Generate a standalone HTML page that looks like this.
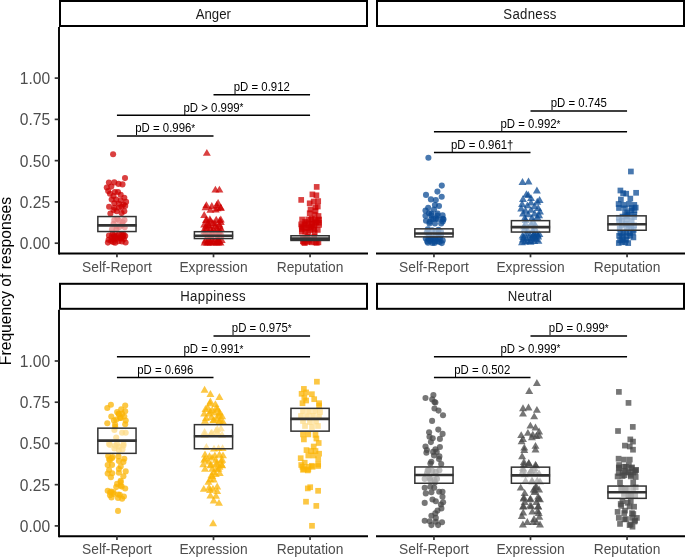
<!DOCTYPE html><html><head><meta charset="utf-8"><style>html,body{margin:0;padding:0;background:#fff;}svg{display:block;font-family:"Liberation Sans", sans-serif;will-change:transform;}</style></head><body>
<svg width="685" height="557" viewBox="0 0 685 557">
<rect width="685" height="557" fill="#fff"/>
<rect x="60" y="1" width="307" height="25" fill="#fff" stroke="#000" stroke-width="2"/>
<text transform="translate(213.3 18.5) scale(1.0 1.09)" font-size="13.2" fill="#1a1a1a" text-anchor="middle">Anger</text>
<path d="M59 253.5H368" stroke="#000" stroke-width="1.9" fill="none"/>
<path d="M116.94 253.5V257.3" stroke="#333" stroke-width="1.7"/>
<text transform="translate(116.94 271.6) scale(1.0 1.07)" font-size="13.8" fill="#4d4d4d" text-anchor="middle">Self-Report</text>
<path d="M213.5 253.5V257.3" stroke="#333" stroke-width="1.7"/>
<text transform="translate(213.5 271.6) scale(1.0 1.07)" font-size="13.8" fill="#4d4d4d" text-anchor="middle">Expression</text>
<path d="M310.06 253.5V257.3" stroke="#333" stroke-width="1.7"/>
<text transform="translate(310.06 271.6) scale(1.0 1.07)" font-size="13.8" fill="#4d4d4d" text-anchor="middle">Reputation</text>
<path d="M59 27V254.45" stroke="#000" stroke-width="1.9" fill="none"/>
<path d="M54.7 243.2H58.5" stroke="#333" stroke-width="1.7"/>
<text transform="translate(50.2 249.05) scale(1.0 1.0)" font-size="15.6" fill="#4d4d4d" text-anchor="end">0.00</text>
<path d="M54.7 201.92H58.5" stroke="#333" stroke-width="1.7"/>
<text transform="translate(50.2 207.77) scale(1.0 1.0)" font-size="15.6" fill="#4d4d4d" text-anchor="end">0.25</text>
<path d="M54.7 160.65H58.5" stroke="#333" stroke-width="1.7"/>
<text transform="translate(50.2 166.5) scale(1.0 1.0)" font-size="15.6" fill="#4d4d4d" text-anchor="end">0.50</text>
<path d="M54.7 119.38H58.5" stroke="#333" stroke-width="1.7"/>
<text transform="translate(50.2 125.22) scale(1.0 1.0)" font-size="15.6" fill="#4d4d4d" text-anchor="end">0.75</text>
<path d="M54.7 78.1H58.5" stroke="#333" stroke-width="1.7"/>
<text transform="translate(50.2 83.95) scale(1.0 1.0)" font-size="15.6" fill="#4d4d4d" text-anchor="end">1.00</text>
<circle cx="113.1" cy="154.2" r="3.05" fill="rgba(205,0,0,0.750)"/>
<circle cx="125" cy="178.1" r="3.05" fill="rgba(205,0,0,0.750)"/>
<circle cx="108.9" cy="182.6" r="3.05" fill="rgba(205,0,0,0.750)"/>
<circle cx="114.3" cy="182.4" r="3.05" fill="rgba(205,0,0,0.750)"/>
<circle cx="118.5" cy="183.9" r="3.05" fill="rgba(205,0,0,0.750)"/>
<circle cx="122.5" cy="184.4" r="3.05" fill="rgba(205,0,0,0.750)"/>
<circle cx="106.8" cy="187.5" r="3.05" fill="rgba(205,0,0,0.750)"/>
<circle cx="111.3" cy="186.6" r="3.05" fill="rgba(205,0,0,0.750)"/>
<circle cx="108.2" cy="191.1" r="3.05" fill="rgba(205,0,0,0.750)"/>
<circle cx="114.9" cy="192" r="3.05" fill="rgba(205,0,0,0.750)"/>
<circle cx="118" cy="192" r="3.05" fill="rgba(205,0,0,0.750)"/>
<circle cx="120.7" cy="194.7" r="3.05" fill="rgba(205,0,0,0.750)"/>
<circle cx="110" cy="193.8" r="3.05" fill="rgba(205,0,0,0.750)"/>
<circle cx="113.5" cy="196" r="3.05" fill="rgba(205,0,0,0.750)"/>
<circle cx="124.3" cy="197.8" r="3.05" fill="rgba(205,0,0,0.750)"/>
<circle cx="111.7" cy="199.6" r="3.05" fill="rgba(205,0,0,0.750)"/>
<circle cx="116.2" cy="199.6" r="3.05" fill="rgba(205,0,0,0.750)"/>
<circle cx="120.7" cy="200.5" r="3.05" fill="rgba(205,0,0,0.750)"/>
<circle cx="126.1" cy="201.9" r="3.05" fill="rgba(205,0,0,0.750)"/>
<circle cx="114.4" cy="203.2" r="3.05" fill="rgba(205,0,0,0.750)"/>
<circle cx="118.9" cy="203.7" r="3.05" fill="rgba(205,0,0,0.750)"/>
<circle cx="123.4" cy="204.6" r="3.05" fill="rgba(205,0,0,0.750)"/>
<circle cx="109.1" cy="206.8" r="3.05" fill="rgba(205,0,0,0.750)"/>
<circle cx="114.4" cy="207.7" r="3.05" fill="rgba(205,0,0,0.750)"/>
<circle cx="118.9" cy="207.7" r="3.05" fill="rgba(205,0,0,0.750)"/>
<circle cx="113.5" cy="210" r="3.05" fill="rgba(205,0,0,0.750)"/>
<circle cx="124.3" cy="211.3" r="3.05" fill="rgba(205,0,0,0.750)"/>
<circle cx="110.4" cy="213.5" r="3.05" fill="rgba(205,0,0,0.750)"/>
<circle cx="121.6" cy="213.1" r="3.05" fill="rgba(205,0,0,0.750)"/>
<circle cx="116.7" cy="211.3" r="3.05" fill="rgba(205,0,0,0.750)"/>
<circle cx="121.6" cy="206.8" r="3.05" fill="rgba(205,0,0,0.750)"/>
<circle cx="125.2" cy="205.9" r="3.05" fill="rgba(205,0,0,0.750)"/>
<circle cx="117.4" cy="219.1" r="3.05" fill="rgba(205,0,0,0.750)"/>
<circle cx="122.7" cy="222.3" r="3.05" fill="rgba(205,0,0,0.750)"/>
<circle cx="113.6" cy="223.8" r="3.05" fill="rgba(205,0,0,0.750)"/>
<circle cx="119.3" cy="220.9" r="3.05" fill="rgba(205,0,0,0.750)"/>
<circle cx="124.5" cy="220" r="3.05" fill="rgba(205,0,0,0.750)"/>
<circle cx="116.4" cy="229.6" r="3.05" fill="rgba(205,0,0,0.750)"/>
<circle cx="124.7" cy="227.2" r="3.05" fill="rgba(205,0,0,0.750)"/>
<circle cx="112" cy="229.3" r="3.05" fill="rgba(205,0,0,0.750)"/>
<circle cx="114.3" cy="220.1" r="3.05" fill="rgba(205,0,0,0.750)"/>
<circle cx="119.5" cy="227.1" r="3.05" fill="rgba(205,0,0,0.750)"/>
<circle cx="122.4" cy="225.1" r="3.05" fill="rgba(205,0,0,0.750)"/>
<circle cx="116.8" cy="226.5" r="3.05" fill="rgba(205,0,0,0.750)"/>
<circle cx="121.4" cy="238.4" r="3.05" fill="rgba(205,0,0,0.750)"/>
<circle cx="108.6" cy="239.8" r="3.05" fill="rgba(205,0,0,0.750)"/>
<circle cx="113.5" cy="239.6" r="3.05" fill="rgba(205,0,0,0.750)"/>
<circle cx="115.2" cy="242.8" r="3.05" fill="rgba(205,0,0,0.750)"/>
<circle cx="111.2" cy="241.1" r="3.05" fill="rgba(205,0,0,0.750)"/>
<circle cx="109" cy="235.5" r="3.05" fill="rgba(205,0,0,0.750)"/>
<circle cx="125.2" cy="236.1" r="3.05" fill="rgba(205,0,0,0.750)"/>
<circle cx="117.3" cy="238.8" r="3.05" fill="rgba(205,0,0,0.750)"/>
<circle cx="116.6" cy="235.7" r="3.05" fill="rgba(205,0,0,0.750)"/>
<circle cx="118.6" cy="241.3" r="3.05" fill="rgba(205,0,0,0.750)"/>
<circle cx="119" cy="234.6" r="3.05" fill="rgba(205,0,0,0.750)"/>
<circle cx="112.4" cy="234.3" r="3.05" fill="rgba(205,0,0,0.750)"/>
<circle cx="121.9" cy="234.4" r="3.05" fill="rgba(205,0,0,0.750)"/>
<circle cx="125.6" cy="242.5" r="3.05" fill="rgba(205,0,0,0.750)"/>
<circle cx="124" cy="239.1" r="3.05" fill="rgba(205,0,0,0.750)"/>
<circle cx="111.6" cy="237.4" r="3.05" fill="rgba(205,0,0,0.750)"/>
<circle cx="107.9" cy="242.6" r="3.05" fill="rgba(205,0,0,0.750)"/>
<circle cx="122" cy="241.5" r="3.05" fill="rgba(205,0,0,0.750)"/>
<circle cx="114.2" cy="236.7" r="3.05" fill="rgba(205,0,0,0.750)"/>
<circle cx="114.1" cy="235.4" r="3.05" fill="rgba(205,0,0,0.750)"/>
<circle cx="121.8" cy="237.2" r="3.05" fill="rgba(205,0,0,0.750)"/>
<circle cx="123.6" cy="234.6" r="3.05" fill="rgba(205,0,0,0.750)"/>
<circle cx="123" cy="236.1" r="3.05" fill="rgba(205,0,0,0.750)"/>
<circle cx="119.8" cy="237.7" r="3.05" fill="rgba(205,0,0,0.750)"/>
<circle cx="115.8" cy="237.7" r="3.05" fill="rgba(205,0,0,0.750)"/>
<circle cx="113.3" cy="242.1" r="3.05" fill="rgba(205,0,0,0.750)"/>
<path d="M206.85 148.9L210.83 155.8L202.87 155.8Z" fill="rgba(205,0,0,0.750)"/>
<path d="M215.4 185.7L219.38 192.6L211.42 192.6Z" fill="rgba(205,0,0,0.750)"/>
<path d="M219.4 185.7L223.38 192.6L215.42 192.6Z" fill="rgba(205,0,0,0.750)"/>
<path d="M206.4 201.2L210.38 208.1L202.42 208.1Z" fill="rgba(205,0,0,0.750)"/>
<path d="M211.8 202.1L215.78 209L207.82 209Z" fill="rgba(205,0,0,0.750)"/>
<path d="M218.1 199L222.08 205.9L214.12 205.9Z" fill="rgba(205,0,0,0.750)"/>
<path d="M217.6 204.3L221.58 211.2L213.62 211.2Z" fill="rgba(205,0,0,0.750)"/>
<path d="M210.4 205.9L214.38 212.8L206.42 212.8Z" fill="rgba(205,0,0,0.750)"/>
<path d="M220.8 203.7L224.78 210.6L216.82 210.6Z" fill="rgba(205,0,0,0.750)"/>
<path d="M204.2 211.1L208.18 218L200.22 218Z" fill="rgba(205,0,0,0.750)"/>
<path d="M220.8 215.6L224.78 222.5L216.82 222.5Z" fill="rgba(205,0,0,0.750)"/>
<path d="M206 216L209.98 222.9L202.02 222.9Z" fill="rgba(205,0,0,0.750)"/>
<path d="M210.4 216.9L214.38 223.8L206.42 223.8Z" fill="rgba(205,0,0,0.750)"/>
<path d="M204.2 220.5L208.18 227.4L200.22 227.4Z" fill="rgba(205,0,0,0.750)"/>
<path d="M208.6 221.4L212.58 228.3L204.62 228.3Z" fill="rgba(205,0,0,0.750)"/>
<path d="M214.9 219.6L218.88 226.5L210.92 226.5Z" fill="rgba(205,0,0,0.750)"/>
<path d="M219.4 220.5L223.38 227.4L215.42 227.4Z" fill="rgba(205,0,0,0.750)"/>
<path d="M220.8 218.1L224.78 225L216.82 225Z" fill="rgba(205,0,0,0.750)"/>
<path d="M205 224.1L208.98 231L201.02 231Z" fill="rgba(205,0,0,0.750)"/>
<path d="M210.4 225L214.38 231.9L206.42 231.9Z" fill="rgba(205,0,0,0.750)"/>
<path d="M216.7 224.1L220.68 231L212.72 231Z" fill="rgba(205,0,0,0.750)"/>
<path d="M221.2 225L225.18 231.9L217.22 231.9Z" fill="rgba(205,0,0,0.750)"/>
<path d="M204.2 227.7L208.18 234.6L200.22 234.6Z" fill="rgba(205,0,0,0.750)"/>
<path d="M212.2 227.7L216.18 234.6L208.22 234.6Z" fill="rgba(205,0,0,0.750)"/>
<path d="M218.5 226.8L222.48 233.7L214.52 233.7Z" fill="rgba(205,0,0,0.750)"/>
<path d="M220.7 203.8L224.68 210.7L216.72 210.7Z" fill="rgba(205,0,0,0.750)"/>
<path d="M215.7 205.5L219.68 212.4L211.72 212.4Z" fill="rgba(205,0,0,0.750)"/>
<path d="M205.5 203.3L209.48 210.2L201.52 210.2Z" fill="rgba(205,0,0,0.750)"/>
<path d="M216.7 201.1L220.68 208L212.72 208Z" fill="rgba(205,0,0,0.750)"/>
<path d="M206.6 215.8L210.58 222.7L202.62 222.7Z" fill="rgba(205,0,0,0.750)"/>
<path d="M208.9 221.7L212.88 228.6L204.92 228.6Z" fill="rgba(205,0,0,0.750)"/>
<path d="M216.2 215.8L220.18 222.7L212.22 222.7Z" fill="rgba(205,0,0,0.750)"/>
<path d="M219.9 222.6L223.88 229.5L215.92 229.5Z" fill="rgba(205,0,0,0.750)"/>
<path d="M219.7 216.4L223.68 223.3L215.72 223.3Z" fill="rgba(205,0,0,0.750)"/>
<path d="M206.7 224.4L210.68 231.3L202.72 231.3Z" fill="rgba(205,0,0,0.750)"/>
<path d="M208.4 218.9L212.38 225.8L204.42 225.8Z" fill="rgba(205,0,0,0.750)"/>
<path d="M215.2 222.1L219.18 229L211.22 229Z" fill="rgba(205,0,0,0.750)"/>
<path d="M212.9 219.1L216.88 226L208.92 226Z" fill="rgba(205,0,0,0.750)"/>
<path d="M209.9 215.3L213.88 222.2L205.92 222.2Z" fill="rgba(205,0,0,0.750)"/>
<path d="M213.2 225L217.18 231.9L209.22 231.9Z" fill="rgba(205,0,0,0.750)"/>
<path d="M206.2 221.8L210.18 228.7L202.22 228.7Z" fill="rgba(205,0,0,0.750)"/>
<path d="M212.1 228.9L216.08 235.8L208.12 235.8Z" fill="rgba(205,0,0,0.750)"/>
<path d="M218.1 229.5L222.08 236.4L214.12 236.4Z" fill="rgba(205,0,0,0.750)"/>
<path d="M207.9 232L211.88 238.9L203.92 238.9Z" fill="rgba(205,0,0,0.750)"/>
<path d="M220.4 227.8L224.38 234.7L216.42 234.7Z" fill="rgba(205,0,0,0.750)"/>
<path d="M217.4 232.9L221.38 239.8L213.42 239.8Z" fill="rgba(205,0,0,0.750)"/>
<path d="M211.3 232.3L215.28 239.2L207.32 239.2Z" fill="rgba(205,0,0,0.750)"/>
<path d="M204.6 230.2L208.58 237.1L200.62 237.1Z" fill="rgba(205,0,0,0.750)"/>
<path d="M220.6 231.3L224.58 238.2L216.62 238.2Z" fill="rgba(205,0,0,0.750)"/>
<path d="M215.6 228.5L219.58 235.4L211.62 235.4Z" fill="rgba(205,0,0,0.750)"/>
<path d="M208.8 228.3L212.78 235.2L204.82 235.2Z" fill="rgba(205,0,0,0.750)"/>
<path d="M208 236.5L211.98 243.4L204.02 243.4Z" fill="rgba(205,0,0,0.750)"/>
<path d="M211.3 235.1L215.28 242L207.32 242Z" fill="rgba(205,0,0,0.750)"/>
<path d="M213.7 237.1L217.68 244L209.72 244Z" fill="rgba(205,0,0,0.750)"/>
<path d="M217.6 235.4L221.58 242.3L213.62 242.3Z" fill="rgba(205,0,0,0.750)"/>
<path d="M205.2 236.5L209.18 243.4L201.22 243.4Z" fill="rgba(205,0,0,0.750)"/>
<path d="M221.7 236.1L225.68 243L217.72 243Z" fill="rgba(205,0,0,0.750)"/>
<path d="M219.4 237.5L223.38 244.4L215.42 244.4Z" fill="rgba(205,0,0,0.750)"/>
<path d="M216.6 237.9L220.58 244.8L212.62 244.8Z" fill="rgba(205,0,0,0.750)"/>
<path d="M210.5 237.9L214.48 244.8L206.52 244.8Z" fill="rgba(205,0,0,0.750)"/>
<path d="M218.4 236.8L222.38 243.7L214.42 243.7Z" fill="rgba(205,0,0,0.750)"/>
<path d="M210.8 238.7L214.78 245.6L206.82 245.6Z" fill="rgba(205,0,0,0.750)"/>
<path d="M206.9 238.7L210.88 245.6L202.92 245.6Z" fill="rgba(205,0,0,0.750)"/>
<path d="M220.5 238.7L224.48 245.6L216.52 245.6Z" fill="rgba(205,0,0,0.750)"/>
<path d="M216.7 238.7L220.68 245.6L212.72 245.6Z" fill="rgba(205,0,0,0.750)"/>
<path d="M213.4 238.7L217.38 245.6L209.42 245.6Z" fill="rgba(205,0,0,0.750)"/>
<path d="M208.1 238.7L212.08 245.6L204.12 245.6Z" fill="rgba(205,0,0,0.750)"/>
<path d="M204.6 238.7L208.58 245.6L200.62 245.6Z" fill="rgba(205,0,0,0.750)"/>
<path d="M218.3 238.7L222.28 245.6L214.32 245.6Z" fill="rgba(205,0,0,0.750)"/>
<rect x="313.85" y="184.05" width="5.7" height="5.7" fill="rgba(205,0,0,0.750)"/>
<rect x="298.35" y="197.05" width="5.7" height="5.7" fill="rgba(205,0,0,0.750)"/>
<rect x="309.55" y="191.55" width="5.7" height="5.7" fill="rgba(205,0,0,0.750)"/>
<rect x="313.55" y="192.45" width="5.7" height="5.7" fill="rgba(205,0,0,0.750)"/>
<rect x="306.85" y="200.45" width="5.7" height="5.7" fill="rgba(205,0,0,0.750)"/>
<rect x="310.85" y="198.65" width="5.7" height="5.7" fill="rgba(205,0,0,0.750)"/>
<rect x="315.35" y="198.25" width="5.7" height="5.7" fill="rgba(205,0,0,0.750)"/>
<rect x="312.65" y="204.55" width="5.7" height="5.7" fill="rgba(205,0,0,0.750)"/>
<rect x="314.95" y="203.65" width="5.7" height="5.7" fill="rgba(205,0,0,0.750)"/>
<rect x="306.85" y="210.35" width="5.7" height="5.7" fill="rgba(205,0,0,0.750)"/>
<rect x="311.75" y="211.75" width="5.7" height="5.7" fill="rgba(205,0,0,0.750)"/>
<rect x="299.25" y="216.65" width="5.7" height="5.7" fill="rgba(205,0,0,0.750)"/>
<rect x="316.25" y="216.65" width="5.7" height="5.7" fill="rgba(205,0,0,0.750)"/>
<rect x="309.05" y="215.75" width="5.7" height="5.7" fill="rgba(205,0,0,0.750)"/>
<rect x="298.35" y="221.55" width="5.7" height="5.7" fill="rgba(205,0,0,0.750)"/>
<rect x="303.65" y="220.25" width="5.7" height="5.7" fill="rgba(205,0,0,0.750)"/>
<rect x="309.05" y="221.15" width="5.7" height="5.7" fill="rgba(205,0,0,0.750)"/>
<rect x="313.55" y="219.35" width="5.7" height="5.7" fill="rgba(205,0,0,0.750)"/>
<rect x="316.25" y="222.05" width="5.7" height="5.7" fill="rgba(205,0,0,0.750)"/>
<rect x="300.15" y="224.75" width="5.7" height="5.7" fill="rgba(205,0,0,0.750)"/>
<rect x="305.65" y="224.75" width="5.7" height="5.7" fill="rgba(205,0,0,0.750)"/>
<rect x="311.15" y="224.75" width="5.7" height="5.7" fill="rgba(205,0,0,0.750)"/>
<rect x="307.65" y="206.65" width="5.7" height="5.7" fill="rgba(205,0,0,0.750)"/>
<rect x="312.65" y="208.15" width="5.7" height="5.7" fill="rgba(205,0,0,0.750)"/>
<rect x="315.65" y="213.15" width="5.7" height="5.7" fill="rgba(205,0,0,0.750)"/>
<rect x="315.05" y="217.35" width="5.7" height="5.7" fill="rgba(205,0,0,0.750)"/>
<rect x="308.45" y="223.85" width="5.7" height="5.7" fill="rgba(205,0,0,0.750)"/>
<rect x="307.55" y="227.15" width="5.7" height="5.7" fill="rgba(205,0,0,0.750)"/>
<rect x="302.25" y="218.95" width="5.7" height="5.7" fill="rgba(205,0,0,0.750)"/>
<rect x="301.65" y="221.85" width="5.7" height="5.7" fill="rgba(205,0,0,0.750)"/>
<rect x="302.25" y="228.65" width="5.7" height="5.7" fill="rgba(205,0,0,0.750)"/>
<rect x="311.25" y="226.65" width="5.7" height="5.7" fill="rgba(205,0,0,0.750)"/>
<rect x="311.65" y="222.55" width="5.7" height="5.7" fill="rgba(205,0,0,0.750)"/>
<rect x="312.85" y="219.75" width="5.7" height="5.7" fill="rgba(205,0,0,0.750)"/>
<rect x="304.55" y="225.15" width="5.7" height="5.7" fill="rgba(205,0,0,0.750)"/>
<rect x="308.15" y="216.85" width="5.7" height="5.7" fill="rgba(205,0,0,0.750)"/>
<rect x="299.05" y="226.25" width="5.7" height="5.7" fill="rgba(205,0,0,0.750)"/>
<rect x="314.95" y="227.05" width="5.7" height="5.7" fill="rgba(205,0,0,0.750)"/>
<rect x="316.05" y="219.85" width="5.7" height="5.7" fill="rgba(205,0,0,0.750)"/>
<rect x="308.75" y="220.95" width="5.7" height="5.7" fill="rgba(205,0,0,0.750)"/>
<rect x="305.25" y="229.35" width="5.7" height="5.7" fill="rgba(205,0,0,0.750)"/>
<rect x="305.35" y="222.15" width="5.7" height="5.7" fill="rgba(205,0,0,0.750)"/>
<rect x="311.85" y="229.85" width="5.7" height="5.7" fill="rgba(205,0,0,0.750)"/>
<rect x="305.35" y="216.55" width="5.7" height="5.7" fill="rgba(205,0,0,0.750)"/>
<rect x="298.85" y="223.45" width="5.7" height="5.7" fill="rgba(205,0,0,0.750)"/>
<rect x="298.95" y="228.85" width="5.7" height="5.7" fill="rgba(205,0,0,0.750)"/>
<rect x="311.95" y="217.05" width="5.7" height="5.7" fill="rgba(205,0,0,0.750)"/>
<rect x="300.15" y="235.25" width="5.7" height="5.7" fill="rgba(205,0,0,0.750)"/>
<rect x="311.35" y="233.75" width="5.7" height="5.7" fill="rgba(205,0,0,0.750)"/>
<rect x="305.65" y="236.75" width="5.7" height="5.7" fill="rgba(205,0,0,0.750)"/>
<rect x="304.35" y="234.05" width="5.7" height="5.7" fill="rgba(205,0,0,0.750)"/>
<rect x="302.75" y="236.45" width="5.7" height="5.7" fill="rgba(205,0,0,0.750)"/>
<rect x="304.35" y="239.15" width="5.7" height="5.7" fill="rgba(205,0,0,0.750)"/>
<rect x="312.75" y="239.55" width="5.7" height="5.7" fill="rgba(205,0,0,0.750)"/>
<rect x="309.05" y="239.45" width="5.7" height="5.7" fill="rgba(205,0,0,0.750)"/>
<rect x="315.55" y="239.45" width="5.7" height="5.7" fill="rgba(205,0,0,0.750)"/>
<rect x="300.05" y="238.35" width="5.7" height="5.7" fill="rgba(205,0,0,0.750)"/>
<rect x="306.75" y="238.15" width="5.7" height="5.7" fill="rgba(205,0,0,0.750)"/>
<rect x="301.95" y="240.15" width="5.7" height="5.7" fill="rgba(205,0,0,0.750)"/>
<rect x="300.85" y="239.55" width="5.7" height="5.7" fill="rgba(205,0,0,0.750)"/>
<rect x="313.95" y="239.95" width="5.7" height="5.7" fill="rgba(205,0,0,0.750)"/>
<rect x="97.84" y="216.55" width="38.2" height="15" fill="rgba(255,255,255,0.52)" stroke="#333" stroke-width="1.5"/>
<path d="M97.29 225.4H136.59" stroke="#333" stroke-width="2.6"/>
<rect x="194.4" y="231.7" width="38.2" height="6.85" fill="rgba(255,255,255,0.52)" stroke="#333" stroke-width="1.5"/>
<path d="M193.85 235.7H233.15" stroke="#333" stroke-width="2.6"/>
<rect x="290.96" y="235.75" width="38.2" height="4.7" fill="rgba(255,255,255,0.52)" stroke="#333" stroke-width="1.5"/>
<path d="M290.41 238.6H329.71" stroke="#333" stroke-width="2.6"/>
<path d="M213.5 94.7H310.06" stroke="#000" stroke-width="1.5"/>
<text transform="translate(261.78 91) scale(1.0 1.04)" font-size="11.4" fill="#000" text-anchor="middle">pD = 0.912</text>
<path d="M116.94 115.35H310.06" stroke="#000" stroke-width="1.5"/>
<text transform="translate(213.5 111.65) scale(1.0 1.04)" font-size="11.4" fill="#000" text-anchor="middle">pD &gt; 0.999<tspan font-size="10.0" dy="-0.5">*</tspan></text>
<path d="M116.94 136H213.5" stroke="#000" stroke-width="1.5"/>
<text transform="translate(165.22 132.3) scale(1.0 1.04)" font-size="11.4" fill="#000" text-anchor="middle">pD = 0.996<tspan font-size="10.0" dy="-0.5">*</tspan></text>
<rect x="377" y="1" width="307" height="25" fill="#fff" stroke="#000" stroke-width="2"/>
<text transform="translate(529.9 18.5) scale(1.0 1.09)" font-size="13.2" fill="#1a1a1a" text-anchor="middle" textLength="53.1" lengthAdjust="spacing">Sadness</text>
<path d="M376 253.5H685" stroke="#000" stroke-width="1.9" fill="none"/>
<path d="M433.94 253.5V257.3" stroke="#333" stroke-width="1.7"/>
<text transform="translate(433.94 271.6) scale(1.0 1.07)" font-size="13.8" fill="#4d4d4d" text-anchor="middle">Self-Report</text>
<path d="M530.5 253.5V257.3" stroke="#333" stroke-width="1.7"/>
<text transform="translate(530.5 271.6) scale(1.0 1.07)" font-size="13.8" fill="#4d4d4d" text-anchor="middle">Expression</text>
<path d="M627.06 253.5V257.3" stroke="#333" stroke-width="1.7"/>
<text transform="translate(627.06 271.6) scale(1.0 1.07)" font-size="13.8" fill="#4d4d4d" text-anchor="middle">Reputation</text>
<circle cx="428.4" cy="157.7" r="3.05" fill="rgba(11,75,148,0.750)"/>
<circle cx="441.8" cy="185.6" r="3.05" fill="rgba(11,75,148,0.750)"/>
<circle cx="437.4" cy="191.6" r="3.05" fill="rgba(11,75,148,0.750)"/>
<circle cx="426" cy="194.9" r="3.05" fill="rgba(11,75,148,0.750)"/>
<circle cx="441.7" cy="196.7" r="3.05" fill="rgba(11,75,148,0.750)"/>
<circle cx="430.9" cy="199.4" r="3.05" fill="rgba(11,75,148,0.750)"/>
<circle cx="435.8" cy="200.1" r="3.05" fill="rgba(11,75,148,0.750)"/>
<circle cx="434.9" cy="205.1" r="3.05" fill="rgba(11,75,148,0.750)"/>
<circle cx="439" cy="206" r="3.05" fill="rgba(11,75,148,0.750)"/>
<circle cx="428.2" cy="207.8" r="3.05" fill="rgba(11,75,148,0.750)"/>
<circle cx="425.5" cy="210.5" r="3.05" fill="rgba(11,75,148,0.750)"/>
<circle cx="434" cy="209.6" r="3.05" fill="rgba(11,75,148,0.750)"/>
<circle cx="425.5" cy="215.8" r="3.05" fill="rgba(11,75,148,0.750)"/>
<circle cx="431.3" cy="213.6" r="3.05" fill="rgba(11,75,148,0.750)"/>
<circle cx="437.6" cy="213.6" r="3.05" fill="rgba(11,75,148,0.750)"/>
<circle cx="442.6" cy="215.4" r="3.05" fill="rgba(11,75,148,0.750)"/>
<circle cx="443.5" cy="219.4" r="3.05" fill="rgba(11,75,148,0.750)"/>
<circle cx="426" cy="220.8" r="3.05" fill="rgba(11,75,148,0.750)"/>
<circle cx="431.3" cy="219" r="3.05" fill="rgba(11,75,148,0.750)"/>
<circle cx="437.6" cy="219" r="3.05" fill="rgba(11,75,148,0.750)"/>
<circle cx="429.5" cy="223.5" r="3.05" fill="rgba(11,75,148,0.750)"/>
<circle cx="434.9" cy="223.5" r="3.05" fill="rgba(11,75,148,0.750)"/>
<circle cx="441.2" cy="223.5" r="3.05" fill="rgba(11,75,148,0.750)"/>
<circle cx="429" cy="213.2" r="3.05" fill="rgba(11,75,148,0.750)"/>
<circle cx="442.8" cy="218.9" r="3.05" fill="rgba(11,75,148,0.750)"/>
<circle cx="435.9" cy="218.4" r="3.05" fill="rgba(11,75,148,0.750)"/>
<circle cx="431.4" cy="215.4" r="3.05" fill="rgba(11,75,148,0.750)"/>
<circle cx="437.4" cy="215.6" r="3.05" fill="rgba(11,75,148,0.750)"/>
<circle cx="442.7" cy="221.5" r="3.05" fill="rgba(11,75,148,0.750)"/>
<circle cx="433.3" cy="219" r="3.05" fill="rgba(11,75,148,0.750)"/>
<circle cx="429.7" cy="221.7" r="3.05" fill="rgba(11,75,148,0.750)"/>
<circle cx="438.5" cy="229.8" r="3.05" fill="rgba(11,75,148,0.750)"/>
<circle cx="441" cy="231.9" r="3.05" fill="rgba(11,75,148,0.750)"/>
<circle cx="432.1" cy="230.2" r="3.05" fill="rgba(11,75,148,0.750)"/>
<circle cx="438.4" cy="233.4" r="3.05" fill="rgba(11,75,148,0.750)"/>
<circle cx="435.7" cy="231" r="3.05" fill="rgba(11,75,148,0.750)"/>
<circle cx="426.8" cy="232.2" r="3.05" fill="rgba(11,75,148,0.750)"/>
<circle cx="427.8" cy="229.3" r="3.05" fill="rgba(11,75,148,0.750)"/>
<circle cx="441" cy="235" r="3.05" fill="rgba(11,75,148,0.750)"/>
<circle cx="435.4" cy="236" r="3.05" fill="rgba(11,75,148,0.750)"/>
<circle cx="429" cy="234.3" r="3.05" fill="rgba(11,75,148,0.750)"/>
<circle cx="430.3" cy="240.9" r="3.05" fill="rgba(11,75,148,0.750)"/>
<circle cx="437.6" cy="241.2" r="3.05" fill="rgba(11,75,148,0.750)"/>
<circle cx="441.8" cy="243.1" r="3.05" fill="rgba(11,75,148,0.750)"/>
<circle cx="434.7" cy="241.5" r="3.05" fill="rgba(11,75,148,0.750)"/>
<circle cx="427.2" cy="241.5" r="3.05" fill="rgba(11,75,148,0.750)"/>
<circle cx="435.1" cy="238.8" r="3.05" fill="rgba(11,75,148,0.750)"/>
<circle cx="440.1" cy="238.4" r="3.05" fill="rgba(11,75,148,0.750)"/>
<circle cx="428.4" cy="238.8" r="3.05" fill="rgba(11,75,148,0.750)"/>
<circle cx="431.1" cy="238.2" r="3.05" fill="rgba(11,75,148,0.750)"/>
<circle cx="432.3" cy="243" r="3.05" fill="rgba(11,75,148,0.750)"/>
<circle cx="442.7" cy="240.4" r="3.05" fill="rgba(11,75,148,0.750)"/>
<circle cx="425.8" cy="238.6" r="3.05" fill="rgba(11,75,148,0.750)"/>
<circle cx="438.5" cy="239" r="3.05" fill="rgba(11,75,148,0.750)"/>
<circle cx="439.6" cy="242" r="3.05" fill="rgba(11,75,148,0.750)"/>
<circle cx="428" cy="242.8" r="3.05" fill="rgba(11,75,148,0.750)"/>
<circle cx="432.5" cy="238.4" r="3.05" fill="rgba(11,75,148,0.750)"/>
<circle cx="429.6" cy="239.7" r="3.05" fill="rgba(11,75,148,0.750)"/>
<circle cx="434.5" cy="243" r="3.05" fill="rgba(11,75,148,0.750)"/>
<path d="M522.5 178.1L526.48 185L518.52 185Z" fill="rgba(11,75,148,0.750)"/>
<path d="M528.5 177.6L532.48 184.5L524.52 184.5Z" fill="rgba(11,75,148,0.750)"/>
<path d="M536.9 186.6L540.88 193.5L532.92 193.5Z" fill="rgba(11,75,148,0.750)"/>
<path d="M526.5 190.2L530.48 197.1L522.52 197.1Z" fill="rgba(11,75,148,0.750)"/>
<path d="M528.3 191.1L532.28 198L524.32 198Z" fill="rgba(11,75,148,0.750)"/>
<path d="M539.6 196L543.58 202.9L535.62 202.9Z" fill="rgba(11,75,148,0.750)"/>
<path d="M523 195.1L526.98 202L519.02 202Z" fill="rgba(11,75,148,0.750)"/>
<path d="M531 194.2L534.98 201.1L527.02 201.1Z" fill="rgba(11,75,148,0.750)"/>
<path d="M522.1 200.1L526.08 207L518.12 207Z" fill="rgba(11,75,148,0.750)"/>
<path d="M531 198.7L534.98 205.6L527.02 205.6Z" fill="rgba(11,75,148,0.750)"/>
<path d="M537.3 197.8L541.28 204.7L533.32 204.7Z" fill="rgba(11,75,148,0.750)"/>
<path d="M527.4 201.4L531.38 208.3L523.42 208.3Z" fill="rgba(11,75,148,0.750)"/>
<path d="M534.6 202.3L538.58 209.2L530.62 209.2Z" fill="rgba(11,75,148,0.750)"/>
<path d="M521.2 204.6L525.18 211.5L517.22 211.5Z" fill="rgba(11,75,148,0.750)"/>
<path d="M525.6 206.8L529.58 213.7L521.62 213.7Z" fill="rgba(11,75,148,0.750)"/>
<path d="M531 205.9L534.98 212.8L527.02 212.8Z" fill="rgba(11,75,148,0.750)"/>
<path d="M538.2 204.1L542.18 211L534.22 211Z" fill="rgba(11,75,148,0.750)"/>
<path d="M540 207.7L543.98 214.6L536.02 214.6Z" fill="rgba(11,75,148,0.750)"/>
<path d="M523 209.5L526.98 216.4L519.02 216.4Z" fill="rgba(11,75,148,0.750)"/>
<path d="M528.3 210.4L532.28 217.3L524.32 217.3Z" fill="rgba(11,75,148,0.750)"/>
<path d="M534.6 209.5L538.58 216.4L530.62 216.4Z" fill="rgba(11,75,148,0.750)"/>
<path d="M539.1 211.3L543.08 218.2L535.12 218.2Z" fill="rgba(11,75,148,0.750)"/>
<path d="M524.7 214L528.68 220.9L520.72 220.9Z" fill="rgba(11,75,148,0.750)"/>
<path d="M531.9 214L535.88 220.9L527.92 220.9Z" fill="rgba(11,75,148,0.750)"/>
<path d="M537.3 213.1L541.28 220L533.32 220Z" fill="rgba(11,75,148,0.750)"/>
<path d="M534.9 224.1L538.88 231L530.92 231Z" fill="rgba(11,75,148,0.750)"/>
<path d="M533.1 218.1L537.08 225L529.12 225Z" fill="rgba(11,75,148,0.750)"/>
<path d="M525.6 216L529.58 222.9L521.62 222.9Z" fill="rgba(11,75,148,0.750)"/>
<path d="M535.2 220.7L539.18 227.6L531.22 227.6Z" fill="rgba(11,75,148,0.750)"/>
<path d="M524.5 225.1L528.48 232L520.52 232Z" fill="rgba(11,75,148,0.750)"/>
<path d="M525.5 219.6L529.48 226.5L521.52 226.5Z" fill="rgba(11,75,148,0.750)"/>
<path d="M524.2 222.5L528.18 229.4L520.22 229.4Z" fill="rgba(11,75,148,0.750)"/>
<path d="M532.6 226L536.58 232.9L528.62 232.9Z" fill="rgba(11,75,148,0.750)"/>
<path d="M531 219.9L534.98 226.8L527.02 226.8Z" fill="rgba(11,75,148,0.750)"/>
<path d="M527.8 226.4L531.78 233.3L523.82 233.3Z" fill="rgba(11,75,148,0.750)"/>
<path d="M538.1 232.5L542.08 239.4L534.12 239.4Z" fill="rgba(11,75,148,0.750)"/>
<path d="M530.5 237.8L534.48 244.7L526.52 244.7Z" fill="rgba(11,75,148,0.750)"/>
<path d="M534.3 237L538.28 243.9L530.32 243.9Z" fill="rgba(11,75,148,0.750)"/>
<path d="M526.3 234L530.28 240.9L522.32 240.9Z" fill="rgba(11,75,148,0.750)"/>
<path d="M531.1 233.9L535.08 240.8L527.12 240.8Z" fill="rgba(11,75,148,0.750)"/>
<path d="M535.1 232.5L539.08 239.4L531.12 239.4Z" fill="rgba(11,75,148,0.750)"/>
<path d="M530 231.2L533.98 238.1L526.02 238.1Z" fill="rgba(11,75,148,0.750)"/>
<path d="M538.4 236.8L542.38 243.7L534.42 243.7Z" fill="rgba(11,75,148,0.750)"/>
<path d="M522.6 231.7L526.58 238.6L518.62 238.6Z" fill="rgba(11,75,148,0.750)"/>
<path d="M525 237.5L528.98 244.4L521.02 244.4Z" fill="rgba(11,75,148,0.750)"/>
<path d="M526.6 229.6L530.58 236.5L522.62 236.5Z" fill="rgba(11,75,148,0.750)"/>
<path d="M536.9 229.6L540.88 236.5L532.92 236.5Z" fill="rgba(11,75,148,0.750)"/>
<path d="M522 238.3L525.98 245.2L518.02 245.2Z" fill="rgba(11,75,148,0.750)"/>
<path d="M534.2 229.8L538.18 236.7L530.22 236.7Z" fill="rgba(11,75,148,0.750)"/>
<path d="M539.4 230.2L543.38 237.1L535.42 237.1Z" fill="rgba(11,75,148,0.750)"/>
<path d="M522.9 235.7L526.88 242.6L518.92 242.6Z" fill="rgba(11,75,148,0.750)"/>
<path d="M536.1 235L540.08 241.9L532.12 241.9Z" fill="rgba(11,75,148,0.750)"/>
<path d="M527.8 237.1L531.78 244L523.82 244Z" fill="rgba(11,75,148,0.750)"/>
<path d="M537.8 231.3L541.78 238.2L533.82 238.2Z" fill="rgba(11,75,148,0.750)"/>
<path d="M533.1 232.5L537.08 239.4L529.12 239.4Z" fill="rgba(11,75,148,0.750)"/>
<path d="M530.5 236.5L534.48 243.4L526.52 243.4Z" fill="rgba(11,75,148,0.750)"/>
<path d="M533.2 231.1L537.18 238L529.22 238Z" fill="rgba(11,75,148,0.750)"/>
<path d="M534.8 234.1L538.78 241L530.82 241Z" fill="rgba(11,75,148,0.750)"/>
<path d="M523.3 233.1L527.28 240L519.32 240Z" fill="rgba(11,75,148,0.750)"/>
<rect x="628.05" y="168.65" width="5.7" height="5.7" fill="rgba(11,75,148,0.750)"/>
<rect x="617.55" y="187.65" width="5.7" height="5.7" fill="rgba(11,75,148,0.750)"/>
<rect x="633.25" y="189.95" width="5.7" height="5.7" fill="rgba(11,75,148,0.750)"/>
<rect x="620.25" y="190.35" width="5.7" height="5.7" fill="rgba(11,75,148,0.750)"/>
<rect x="623.35" y="190.85" width="5.7" height="5.7" fill="rgba(11,75,148,0.750)"/>
<rect x="618.05" y="196.65" width="5.7" height="5.7" fill="rgba(11,75,148,0.750)"/>
<rect x="627.45" y="195.75" width="5.7" height="5.7" fill="rgba(11,75,148,0.750)"/>
<rect x="615.75" y="201.15" width="5.7" height="5.7" fill="rgba(11,75,148,0.750)"/>
<rect x="620.65" y="202.05" width="5.7" height="5.7" fill="rgba(11,75,148,0.750)"/>
<rect x="626.05" y="201.15" width="5.7" height="5.7" fill="rgba(11,75,148,0.750)"/>
<rect x="631.45" y="202.05" width="5.7" height="5.7" fill="rgba(11,75,148,0.750)"/>
<rect x="616.15" y="205.15" width="5.7" height="5.7" fill="rgba(11,75,148,0.750)"/>
<rect x="622.15" y="205.55" width="5.7" height="5.7" fill="rgba(11,75,148,0.750)"/>
<rect x="628.75" y="205.15" width="5.7" height="5.7" fill="rgba(11,75,148,0.750)"/>
<rect x="632.85" y="204.75" width="5.7" height="5.7" fill="rgba(11,75,148,0.750)"/>
<rect x="631.55" y="207.45" width="5.7" height="5.7" fill="rgba(11,75,148,0.750)"/>
<rect x="624.35" y="209.55" width="5.7" height="5.7" fill="rgba(11,75,148,0.750)"/>
<rect x="622.25" y="211.25" width="5.7" height="5.7" fill="rgba(11,75,148,0.750)"/>
<rect x="626.05" y="211.65" width="5.7" height="5.7" fill="rgba(11,75,148,0.750)"/>
<rect x="628.45" y="207.75" width="5.7" height="5.7" fill="rgba(11,75,148,0.750)"/>
<rect x="631.45" y="212.05" width="5.7" height="5.7" fill="rgba(11,75,148,0.750)"/>
<rect x="628.85" y="218.15" width="5.7" height="5.7" fill="rgba(11,75,148,0.750)"/>
<rect x="623.15" y="221.35" width="5.7" height="5.7" fill="rgba(11,75,148,0.750)"/>
<rect x="630.85" y="227.05" width="5.7" height="5.7" fill="rgba(11,75,148,0.750)"/>
<rect x="616.85" y="225.65" width="5.7" height="5.7" fill="rgba(11,75,148,0.750)"/>
<rect x="628.35" y="224.35" width="5.7" height="5.7" fill="rgba(11,75,148,0.750)"/>
<rect x="631.25" y="214.25" width="5.7" height="5.7" fill="rgba(11,75,148,0.750)"/>
<rect x="615.95" y="214.95" width="5.7" height="5.7" fill="rgba(11,75,148,0.750)"/>
<rect x="626.05" y="222.75" width="5.7" height="5.7" fill="rgba(11,75,148,0.750)"/>
<rect x="618.85" y="222.75" width="5.7" height="5.7" fill="rgba(11,75,148,0.750)"/>
<rect x="619.65" y="213.75" width="5.7" height="5.7" fill="rgba(11,75,148,0.750)"/>
<rect x="623.65" y="216.95" width="5.7" height="5.7" fill="rgba(11,75,148,0.750)"/>
<rect x="618.95" y="218.15" width="5.7" height="5.7" fill="rgba(11,75,148,0.750)"/>
<rect x="624.15" y="224.75" width="5.7" height="5.7" fill="rgba(11,75,148,0.750)"/>
<rect x="631.25" y="222.45" width="5.7" height="5.7" fill="rgba(11,75,148,0.750)"/>
<rect x="616.25" y="218.85" width="5.7" height="5.7" fill="rgba(11,75,148,0.750)"/>
<rect x="625.05" y="213.65" width="5.7" height="5.7" fill="rgba(11,75,148,0.750)"/>
<rect x="619.15" y="233.65" width="5.7" height="5.7" fill="rgba(11,75,148,0.750)"/>
<rect x="630.05" y="229.55" width="5.7" height="5.7" fill="rgba(11,75,148,0.750)"/>
<rect x="623.95" y="233.25" width="5.7" height="5.7" fill="rgba(11,75,148,0.750)"/>
<rect x="616.25" y="232.95" width="5.7" height="5.7" fill="rgba(11,75,148,0.750)"/>
<rect x="620.55" y="231.05" width="5.7" height="5.7" fill="rgba(11,75,148,0.750)"/>
<rect x="627.35" y="232.85" width="5.7" height="5.7" fill="rgba(11,75,148,0.750)"/>
<rect x="630.55" y="234.55" width="5.7" height="5.7" fill="rgba(11,75,148,0.750)"/>
<rect x="617.55" y="230.05" width="5.7" height="5.7" fill="rgba(11,75,148,0.750)"/>
<rect x="623.45" y="229.45" width="5.7" height="5.7" fill="rgba(11,75,148,0.750)"/>
<rect x="626.75" y="230.25" width="5.7" height="5.7" fill="rgba(11,75,148,0.750)"/>
<rect x="623.45" y="236.95" width="5.7" height="5.7" fill="rgba(11,75,148,0.750)"/>
<rect x="619.25" y="239.15" width="5.7" height="5.7" fill="rgba(11,75,148,0.750)"/>
<rect x="615.95" y="240.15" width="5.7" height="5.7" fill="rgba(11,75,148,0.750)"/>
<rect x="617.25" y="237.35" width="5.7" height="5.7" fill="rgba(11,75,148,0.750)"/>
<rect x="625.35" y="240.25" width="5.7" height="5.7" fill="rgba(11,75,148,0.750)"/>
<rect x="622.25" y="239.45" width="5.7" height="5.7" fill="rgba(11,75,148,0.750)"/>
<rect x="620.25" y="236.65" width="5.7" height="5.7" fill="rgba(11,75,148,0.750)"/>
<rect x="414.84" y="228.85" width="38.2" height="8" fill="rgba(255,255,255,0.52)" stroke="#333" stroke-width="1.5"/>
<path d="M414.29 233.5H453.59" stroke="#333" stroke-width="2.6"/>
<rect x="511.4" y="220.65" width="38.2" height="11.4" fill="rgba(255,255,255,0.52)" stroke="#333" stroke-width="1.5"/>
<path d="M510.85 227.1H550.15" stroke="#333" stroke-width="2.6"/>
<rect x="607.96" y="215.85" width="38.2" height="14.4" fill="rgba(255,255,255,0.52)" stroke="#333" stroke-width="1.5"/>
<path d="M607.41 224.3H646.71" stroke="#333" stroke-width="2.6"/>
<path d="M530.5 111.1H627.06" stroke="#000" stroke-width="1.5"/>
<text transform="translate(578.78 107.4) scale(1.0 1.04)" font-size="11.4" fill="#000" text-anchor="middle">pD = 0.745</text>
<path d="M433.94 131.8H627.06" stroke="#000" stroke-width="1.5"/>
<text transform="translate(530.5 128.1) scale(1.0 1.04)" font-size="11.4" fill="#000" text-anchor="middle">pD = 0.992<tspan font-size="10.0" dy="-0.5">*</tspan></text>
<path d="M433.94 152.5H530.5" stroke="#000" stroke-width="1.5"/>
<text transform="translate(482.22 148.8) scale(1.0 1.04)" font-size="11.4" fill="#000" text-anchor="middle">pD = 0.961†</text>
<rect x="60" y="283.8" width="307" height="25" fill="#fff" stroke="#000" stroke-width="2"/>
<text transform="translate(212.9 301.3) scale(1.0 1.09)" font-size="13.2" fill="#1a1a1a" text-anchor="middle" textLength="65.4" lengthAdjust="spacing">Happiness</text>
<path d="M59 536.3H368" stroke="#000" stroke-width="1.9" fill="none"/>
<path d="M116.94 536.3V540.1" stroke="#333" stroke-width="1.7"/>
<text transform="translate(116.94 554.4) scale(1.0 1.07)" font-size="13.8" fill="#4d4d4d" text-anchor="middle">Self-Report</text>
<path d="M213.5 536.3V540.1" stroke="#333" stroke-width="1.7"/>
<text transform="translate(213.5 554.4) scale(1.0 1.07)" font-size="13.8" fill="#4d4d4d" text-anchor="middle">Expression</text>
<path d="M310.06 536.3V540.1" stroke="#333" stroke-width="1.7"/>
<text transform="translate(310.06 554.4) scale(1.0 1.07)" font-size="13.8" fill="#4d4d4d" text-anchor="middle">Reputation</text>
<path d="M59 309.8V537.25" stroke="#000" stroke-width="1.9" fill="none"/>
<path d="M54.7 525.9H58.5" stroke="#333" stroke-width="1.7"/>
<text transform="translate(50.2 531.75) scale(1.0 1.0)" font-size="15.6" fill="#4d4d4d" text-anchor="end">0.00</text>
<path d="M54.7 484.67H58.5" stroke="#333" stroke-width="1.7"/>
<text transform="translate(50.2 490.52) scale(1.0 1.0)" font-size="15.6" fill="#4d4d4d" text-anchor="end">0.25</text>
<path d="M54.7 443.45H58.5" stroke="#333" stroke-width="1.7"/>
<text transform="translate(50.2 449.3) scale(1.0 1.0)" font-size="15.6" fill="#4d4d4d" text-anchor="end">0.50</text>
<path d="M54.7 402.22H58.5" stroke="#333" stroke-width="1.7"/>
<text transform="translate(50.2 408.07) scale(1.0 1.0)" font-size="15.6" fill="#4d4d4d" text-anchor="end">0.75</text>
<path d="M54.7 361H58.5" stroke="#333" stroke-width="1.7"/>
<text transform="translate(50.2 366.85) scale(1.0 1.0)" font-size="15.6" fill="#4d4d4d" text-anchor="end">1.00</text>
<circle cx="110.9" cy="404.7" r="3.05" fill="rgba(251,180,6,0.750)"/>
<circle cx="107.3" cy="408" r="3.05" fill="rgba(251,180,6,0.750)"/>
<circle cx="121.2" cy="409.4" r="3.05" fill="rgba(251,180,6,0.750)"/>
<circle cx="125.2" cy="411.2" r="3.05" fill="rgba(251,180,6,0.750)"/>
<circle cx="117.1" cy="412.1" r="3.05" fill="rgba(251,180,6,0.750)"/>
<circle cx="118.9" cy="414.3" r="3.05" fill="rgba(251,180,6,0.750)"/>
<circle cx="122.1" cy="413.9" r="3.05" fill="rgba(251,180,6,0.750)"/>
<circle cx="111.3" cy="416.5" r="3.05" fill="rgba(251,180,6,0.750)"/>
<circle cx="124.3" cy="416.5" r="3.05" fill="rgba(251,180,6,0.750)"/>
<circle cx="120.7" cy="417.9" r="3.05" fill="rgba(251,180,6,0.750)"/>
<circle cx="114" cy="420.6" r="3.05" fill="rgba(251,180,6,0.750)"/>
<circle cx="125.7" cy="420.6" r="3.05" fill="rgba(251,180,6,0.750)"/>
<circle cx="107.3" cy="423.3" r="3.05" fill="rgba(251,180,6,0.750)"/>
<circle cx="125.2" cy="424.2" r="3.05" fill="rgba(251,180,6,0.750)"/>
<circle cx="115.2" cy="426.9" r="3.05" fill="rgba(251,180,6,0.750)"/>
<circle cx="114.4" cy="430" r="3.05" fill="rgba(251,180,6,0.750)"/>
<circle cx="122.1" cy="432.7" r="3.05" fill="rgba(251,180,6,0.750)"/>
<circle cx="125.7" cy="432.7" r="3.05" fill="rgba(251,180,6,0.750)"/>
<circle cx="116.2" cy="437.6" r="3.05" fill="rgba(251,180,6,0.750)"/>
<circle cx="109" cy="444" r="3.05" fill="rgba(251,180,6,0.750)"/>
<circle cx="117" cy="444" r="3.05" fill="rgba(251,180,6,0.750)"/>
<circle cx="123.5" cy="444" r="3.05" fill="rgba(251,180,6,0.750)"/>
<circle cx="110" cy="444.9" r="3.05" fill="rgba(251,180,6,0.750)"/>
<circle cx="115.3" cy="445.8" r="3.05" fill="rgba(251,180,6,0.750)"/>
<circle cx="118.9" cy="446.7" r="3.05" fill="rgba(251,180,6,0.750)"/>
<circle cx="123.4" cy="445.8" r="3.05" fill="rgba(251,180,6,0.750)"/>
<circle cx="114.4" cy="448.5" r="3.05" fill="rgba(251,180,6,0.750)"/>
<circle cx="122.5" cy="449.4" r="3.05" fill="rgba(251,180,6,0.750)"/>
<circle cx="118.9" cy="450.3" r="3.05" fill="rgba(251,180,6,0.750)"/>
<circle cx="108.2" cy="456.1" r="3.05" fill="rgba(251,180,6,0.750)"/>
<circle cx="112.6" cy="457" r="3.05" fill="rgba(251,180,6,0.750)"/>
<circle cx="118.5" cy="456.5" r="3.05" fill="rgba(251,180,6,0.750)"/>
<circle cx="124.3" cy="458.8" r="3.05" fill="rgba(251,180,6,0.750)"/>
<circle cx="110" cy="460.1" r="3.05" fill="rgba(251,180,6,0.750)"/>
<circle cx="118.9" cy="461" r="3.05" fill="rgba(251,180,6,0.750)"/>
<circle cx="123.4" cy="461.9" r="3.05" fill="rgba(251,180,6,0.750)"/>
<circle cx="107.7" cy="465.1" r="3.05" fill="rgba(251,180,6,0.750)"/>
<circle cx="120.7" cy="466.4" r="3.05" fill="rgba(251,180,6,0.750)"/>
<circle cx="109.1" cy="470" r="3.05" fill="rgba(251,180,6,0.750)"/>
<circle cx="118.9" cy="469.1" r="3.05" fill="rgba(251,180,6,0.750)"/>
<circle cx="125.7" cy="471.4" r="3.05" fill="rgba(251,180,6,0.750)"/>
<circle cx="107.7" cy="473.6" r="3.05" fill="rgba(251,180,6,0.750)"/>
<circle cx="112.2" cy="473.2" r="3.05" fill="rgba(251,180,6,0.750)"/>
<circle cx="118.9" cy="472.7" r="3.05" fill="rgba(251,180,6,0.750)"/>
<circle cx="110.9" cy="477.2" r="3.05" fill="rgba(251,180,6,0.750)"/>
<circle cx="123.4" cy="476.3" r="3.05" fill="rgba(251,180,6,0.750)"/>
<circle cx="120.7" cy="480.8" r="3.05" fill="rgba(251,180,6,0.750)"/>
<circle cx="117.1" cy="483.9" r="3.05" fill="rgba(251,180,6,0.750)"/>
<circle cx="120.7" cy="482.2" r="3.05" fill="rgba(251,180,6,0.750)"/>
<circle cx="116.2" cy="487.1" r="3.05" fill="rgba(251,180,6,0.750)"/>
<circle cx="120.7" cy="485.8" r="3.05" fill="rgba(251,180,6,0.750)"/>
<circle cx="125.2" cy="488.5" r="3.05" fill="rgba(251,180,6,0.750)"/>
<circle cx="107.7" cy="490.7" r="3.05" fill="rgba(251,180,6,0.750)"/>
<circle cx="111.3" cy="491.6" r="3.05" fill="rgba(251,180,6,0.750)"/>
<circle cx="113.5" cy="493.9" r="3.05" fill="rgba(251,180,6,0.750)"/>
<circle cx="110" cy="495.2" r="3.05" fill="rgba(251,180,6,0.750)"/>
<circle cx="119.8" cy="494.7" r="3.05" fill="rgba(251,180,6,0.750)"/>
<circle cx="123.9" cy="496.5" r="3.05" fill="rgba(251,180,6,0.750)"/>
<circle cx="118" cy="497.9" r="3.05" fill="rgba(251,180,6,0.750)"/>
<circle cx="122.1" cy="498.8" r="3.05" fill="rgba(251,180,6,0.750)"/>
<circle cx="118" cy="510.9" r="3.05" fill="rgba(251,180,6,0.750)"/>
<circle cx="125.2" cy="405.6" r="3.05" fill="rgba(251,180,6,0.750)"/>
<circle cx="120" cy="418" r="3.05" fill="rgba(251,180,6,0.750)"/>
<circle cx="115.1" cy="424.6" r="3.05" fill="rgba(251,180,6,0.750)"/>
<circle cx="118.5" cy="413.7" r="3.05" fill="rgba(251,180,6,0.750)"/>
<circle cx="116.3" cy="419.5" r="3.05" fill="rgba(251,180,6,0.750)"/>
<circle cx="109.1" cy="459.4" r="3.05" fill="rgba(251,180,6,0.750)"/>
<circle cx="112" cy="464.9" r="3.05" fill="rgba(251,180,6,0.750)"/>
<circle cx="118.3" cy="494.6" r="3.05" fill="rgba(251,180,6,0.750)"/>
<circle cx="113.5" cy="492.3" r="3.05" fill="rgba(251,180,6,0.750)"/>
<circle cx="110.1" cy="492.3" r="3.05" fill="rgba(251,180,6,0.750)"/>
<circle cx="111.5" cy="497.4" r="3.05" fill="rgba(251,180,6,0.750)"/>
<circle cx="111.8" cy="458.3" r="3.05" fill="rgba(251,180,6,0.750)"/>
<circle cx="121.7" cy="486.6" r="3.05" fill="rgba(251,180,6,0.750)"/>
<path d="M204.6 385.8L208.58 392.7L200.62 392.7Z" fill="rgba(251,180,6,0.750)"/>
<path d="M210.4 390.1L214.38 397L206.42 397Z" fill="rgba(251,180,6,0.750)"/>
<path d="M219.4 393L223.38 399.9L215.42 399.9Z" fill="rgba(251,180,6,0.750)"/>
<path d="M210.4 397.5L214.38 404.4L206.42 404.4Z" fill="rgba(251,180,6,0.750)"/>
<path d="M215.4 400.2L219.38 407.1L211.42 407.1Z" fill="rgba(251,180,6,0.750)"/>
<path d="M205.5 405.1L209.48 412L201.52 412Z" fill="rgba(251,180,6,0.750)"/>
<path d="M212.2 406L216.18 412.9L208.22 412.9Z" fill="rgba(251,180,6,0.750)"/>
<path d="M217.6 405.1L221.58 412L213.62 412Z" fill="rgba(251,180,6,0.750)"/>
<path d="M204.2 409.6L208.18 416.5L200.22 416.5Z" fill="rgba(251,180,6,0.750)"/>
<path d="M209.5 409.6L213.48 416.5L205.52 416.5Z" fill="rgba(251,180,6,0.750)"/>
<path d="M214.9 408.7L218.88 415.6L210.92 415.6Z" fill="rgba(251,180,6,0.750)"/>
<path d="M219.4 409.6L223.38 416.5L215.42 416.5Z" fill="rgba(251,180,6,0.750)"/>
<path d="M222.1 412.3L226.08 419.2L218.12 419.2Z" fill="rgba(251,180,6,0.750)"/>
<path d="M206 414.1L209.98 421L202.02 421Z" fill="rgba(251,180,6,0.750)"/>
<path d="M211.3 413.2L215.28 420.1L207.32 420.1Z" fill="rgba(251,180,6,0.750)"/>
<path d="M216.7 414.1L220.68 421L212.72 421Z" fill="rgba(251,180,6,0.750)"/>
<path d="M205 416.8L208.98 423.7L201.02 423.7Z" fill="rgba(251,180,6,0.750)"/>
<path d="M214 415.9L217.98 422.8L210.02 422.8Z" fill="rgba(251,180,6,0.750)"/>
<path d="M220.3 415.9L224.28 422.8L216.32 422.8Z" fill="rgba(251,180,6,0.750)"/>
<path d="M223 417.7L226.98 424.6L219.02 424.6Z" fill="rgba(251,180,6,0.750)"/>
<path d="M204.6 428.1L208.58 435L200.62 435Z" fill="rgba(251,180,6,0.750)"/>
<path d="M210.9 429.4L214.88 436.3L206.92 436.3Z" fill="rgba(251,180,6,0.750)"/>
<path d="M215.8 426.7L219.78 433.6L211.82 433.6Z" fill="rgba(251,180,6,0.750)"/>
<path d="M217.6 428.1L221.58 435L213.62 435Z" fill="rgba(251,180,6,0.750)"/>
<path d="M222.1 430.8L226.08 437.7L218.12 437.7Z" fill="rgba(251,180,6,0.750)"/>
<path d="M206.4 442.9L210.38 449.8L202.42 449.8Z" fill="rgba(251,180,6,0.750)"/>
<path d="M214 444.7L217.98 451.6L210.02 451.6Z" fill="rgba(251,180,6,0.750)"/>
<path d="M218.5 444.2L222.48 451.1L214.52 451.1Z" fill="rgba(251,180,6,0.750)"/>
<path d="M222.6 444.2L226.58 451.1L218.62 451.1Z" fill="rgba(251,180,6,0.750)"/>
<path d="M205 450.5L208.98 457.4L201.02 457.4Z" fill="rgba(251,180,6,0.750)"/>
<path d="M209.5 452.3L213.48 459.2L205.52 459.2Z" fill="rgba(251,180,6,0.750)"/>
<path d="M214.9 451.4L218.88 458.3L210.92 458.3Z" fill="rgba(251,180,6,0.750)"/>
<path d="M219.4 450.5L223.38 457.4L215.42 457.4Z" fill="rgba(251,180,6,0.750)"/>
<path d="M223 451.4L226.98 458.3L219.02 458.3Z" fill="rgba(251,180,6,0.750)"/>
<path d="M204.2 455.9L208.18 462.8L200.22 462.8Z" fill="rgba(251,180,6,0.750)"/>
<path d="M208.6 457.7L212.58 464.6L204.62 464.6Z" fill="rgba(251,180,6,0.750)"/>
<path d="M215.8 455.9L219.78 462.8L211.82 462.8Z" fill="rgba(251,180,6,0.750)"/>
<path d="M221.2 456.8L225.18 463.7L217.22 463.7Z" fill="rgba(251,180,6,0.750)"/>
<path d="M203.3 460.4L207.28 467.3L199.32 467.3Z" fill="rgba(251,180,6,0.750)"/>
<path d="M210.4 461.3L214.38 468.2L206.42 468.2Z" fill="rgba(251,180,6,0.750)"/>
<path d="M216.7 460.4L220.68 467.3L212.72 467.3Z" fill="rgba(251,180,6,0.750)"/>
<path d="M222.1 461.3L226.08 468.2L218.12 468.2Z" fill="rgba(251,180,6,0.750)"/>
<path d="M205 464.9L208.98 471.8L201.02 471.8Z" fill="rgba(251,180,6,0.750)"/>
<path d="M212.2 464.9L216.18 471.8L208.22 471.8Z" fill="rgba(251,180,6,0.750)"/>
<path d="M218.5 464.9L222.48 471.8L214.52 471.8Z" fill="rgba(251,180,6,0.750)"/>
<path d="M219.5 462.8L223.48 469.7L215.52 469.7Z" fill="rgba(251,180,6,0.750)"/>
<path d="M211.4 471.4L215.38 478.3L207.42 478.3Z" fill="rgba(251,180,6,0.750)"/>
<path d="M213.7 475.5L217.68 482.4L209.72 482.4Z" fill="rgba(251,180,6,0.750)"/>
<path d="M208.4 477.9L212.38 484.8L204.42 484.8Z" fill="rgba(251,180,6,0.750)"/>
<path d="M203.8 484.9L207.78 491.8L199.82 491.8Z" fill="rgba(251,180,6,0.750)"/>
<path d="M217.2 482.5L221.18 489.4L213.22 489.4Z" fill="rgba(251,180,6,0.750)"/>
<path d="M217.2 487.2L221.18 494.1L213.22 494.1Z" fill="rgba(251,180,6,0.750)"/>
<path d="M216 491.9L219.98 498.8L212.02 498.8Z" fill="rgba(251,180,6,0.750)"/>
<path d="M213.7 496.5L217.68 503.4L209.72 503.4Z" fill="rgba(251,180,6,0.750)"/>
<path d="M219 498.9L222.98 505.8L215.02 505.8Z" fill="rgba(251,180,6,0.750)"/>
<path d="M213.1 519.3L217.08 526.2L209.12 526.2Z" fill="rgba(251,180,6,0.750)"/>
<path d="M216.6 458.8L220.58 465.7L212.62 465.7Z" fill="rgba(251,180,6,0.750)"/>
<path d="M221.7 460.8L225.68 467.7L217.72 467.7Z" fill="rgba(251,180,6,0.750)"/>
<path d="M215.7 470.1L219.68 477L211.72 477Z" fill="rgba(251,180,6,0.750)"/>
<path d="M212.1 453.7L216.08 460.6L208.12 460.6Z" fill="rgba(251,180,6,0.750)"/>
<path d="M211.1 460.5L215.08 467.4L207.12 467.4Z" fill="rgba(251,180,6,0.750)"/>
<path d="M213.6 468.2L217.58 475.1L209.62 475.1Z" fill="rgba(251,180,6,0.750)"/>
<path d="M222.2 455.8L226.18 462.7L218.22 462.7Z" fill="rgba(251,180,6,0.750)"/>
<path d="M205.1 454.7L209.08 461.6L201.12 461.6Z" fill="rgba(251,180,6,0.750)"/>
<path d="M216.3 464.9L220.28 471.8L212.32 471.8Z" fill="rgba(251,180,6,0.750)"/>
<path d="M219.7 469L223.68 475.9L215.72 475.9Z" fill="rgba(251,180,6,0.750)"/>
<path d="M210.4 491.6L214.38 498.5L206.42 498.5Z" fill="rgba(251,180,6,0.750)"/>
<path d="M212.9 484.8L216.88 491.7L208.92 491.7Z" fill="rgba(251,180,6,0.750)"/>
<path d="M210.2 475.4L214.18 482.3L206.22 482.3Z" fill="rgba(251,180,6,0.750)"/>
<path d="M210 486.1L213.98 493L206.02 493Z" fill="rgba(251,180,6,0.750)"/>
<path d="M212.3 472L216.28 478.9L208.32 478.9Z" fill="rgba(251,180,6,0.750)"/>
<path d="M209.1 483.6L213.08 490.5L205.12 490.5Z" fill="rgba(251,180,6,0.750)"/>
<path d="M210.3 407.4L214.28 414.3L206.32 414.3Z" fill="rgba(251,180,6,0.750)"/>
<path d="M213.3 416.3L217.28 423.2L209.32 423.2Z" fill="rgba(251,180,6,0.750)"/>
<path d="M209.9 399.3L213.88 406.2L205.92 406.2Z" fill="rgba(251,180,6,0.750)"/>
<path d="M219.5 408L223.48 414.9L215.52 414.9Z" fill="rgba(251,180,6,0.750)"/>
<path d="M216.3 403.9L220.28 410.8L212.32 410.8Z" fill="rgba(251,180,6,0.750)"/>
<path d="M219.3 411.7L223.28 418.6L215.32 418.6Z" fill="rgba(251,180,6,0.750)"/>
<path d="M219.4 417.3L223.38 424.2L215.42 424.2Z" fill="rgba(251,180,6,0.750)"/>
<path d="M207.7 403.6L211.68 410.5L203.72 410.5Z" fill="rgba(251,180,6,0.750)"/>
<path d="M220.9 424.4L224.88 431.3L216.92 431.3Z" fill="rgba(251,180,6,0.750)"/>
<path d="M204.7 430.8L208.68 437.7L200.72 437.7Z" fill="rgba(251,180,6,0.750)"/>
<path d="M211.8 428.8L215.78 435.7L207.82 435.7Z" fill="rgba(251,180,6,0.750)"/>
<path d="M217.3 425L221.28 431.9L213.32 431.9Z" fill="rgba(251,180,6,0.750)"/>
<rect x="314.05" y="378.85" width="5.7" height="5.7" fill="rgba(251,180,6,0.750)"/>
<rect x="301.05" y="386.05" width="5.7" height="5.7" fill="rgba(251,180,6,0.750)"/>
<rect x="298.75" y="390.95" width="5.7" height="5.7" fill="rgba(251,180,6,0.750)"/>
<rect x="303.25" y="389.55" width="5.7" height="5.7" fill="rgba(251,180,6,0.750)"/>
<rect x="309.05" y="391.35" width="5.7" height="5.7" fill="rgba(251,180,6,0.750)"/>
<rect x="301.45" y="394.95" width="5.7" height="5.7" fill="rgba(251,180,6,0.750)"/>
<rect x="311.35" y="396.35" width="5.7" height="5.7" fill="rgba(251,180,6,0.750)"/>
<rect x="299.65" y="400.35" width="5.7" height="5.7" fill="rgba(251,180,6,0.750)"/>
<rect x="303.25" y="397.65" width="5.7" height="5.7" fill="rgba(251,180,6,0.750)"/>
<rect x="316.25" y="400.35" width="5.7" height="5.7" fill="rgba(251,180,6,0.750)"/>
<rect x="316.25" y="402.65" width="5.7" height="5.7" fill="rgba(251,180,6,0.750)"/>
<rect x="300.15" y="408.15" width="5.7" height="5.7" fill="rgba(251,180,6,0.750)"/>
<rect x="306.15" y="408.65" width="5.7" height="5.7" fill="rgba(251,180,6,0.750)"/>
<rect x="312.15" y="408.15" width="5.7" height="5.7" fill="rgba(251,180,6,0.750)"/>
<rect x="317.15" y="409.15" width="5.7" height="5.7" fill="rgba(251,180,6,0.750)"/>
<rect x="298.15" y="413.15" width="5.7" height="5.7" fill="rgba(251,180,6,0.750)"/>
<rect x="304.15" y="413.65" width="5.7" height="5.7" fill="rgba(251,180,6,0.750)"/>
<rect x="310.15" y="413.15" width="5.7" height="5.7" fill="rgba(251,180,6,0.750)"/>
<rect x="316.15" y="414.15" width="5.7" height="5.7" fill="rgba(251,180,6,0.750)"/>
<rect x="300.15" y="418.15" width="5.7" height="5.7" fill="rgba(251,180,6,0.750)"/>
<rect x="307.15" y="419.15" width="5.7" height="5.7" fill="rgba(251,180,6,0.750)"/>
<rect x="313.15" y="418.65" width="5.7" height="5.7" fill="rgba(251,180,6,0.750)"/>
<rect x="302.15" y="423.15" width="5.7" height="5.7" fill="rgba(251,180,6,0.750)"/>
<rect x="309.15" y="424.15" width="5.7" height="5.7" fill="rgba(251,180,6,0.750)"/>
<rect x="315.15" y="423.15" width="5.7" height="5.7" fill="rgba(251,180,6,0.750)"/>
<rect x="300.15" y="431.55" width="5.7" height="5.7" fill="rgba(251,180,6,0.750)"/>
<rect x="305.45" y="431.55" width="5.7" height="5.7" fill="rgba(251,180,6,0.750)"/>
<rect x="312.65" y="432.05" width="5.7" height="5.7" fill="rgba(251,180,6,0.750)"/>
<rect x="301.05" y="436.55" width="5.7" height="5.7" fill="rgba(251,180,6,0.750)"/>
<rect x="313.55" y="435.65" width="5.7" height="5.7" fill="rgba(251,180,6,0.750)"/>
<rect x="315.85" y="440.15" width="5.7" height="5.7" fill="rgba(251,180,6,0.750)"/>
<rect x="310.85" y="443.65" width="5.7" height="5.7" fill="rgba(251,180,6,0.750)"/>
<rect x="303.65" y="447.25" width="5.7" height="5.7" fill="rgba(251,180,6,0.750)"/>
<rect x="308.15" y="448.15" width="5.7" height="5.7" fill="rgba(251,180,6,0.750)"/>
<rect x="312.65" y="448.15" width="5.7" height="5.7" fill="rgba(251,180,6,0.750)"/>
<rect x="316.25" y="450.85" width="5.7" height="5.7" fill="rgba(251,180,6,0.750)"/>
<rect x="305.45" y="452.65" width="5.7" height="5.7" fill="rgba(251,180,6,0.750)"/>
<rect x="310.85" y="452.65" width="5.7" height="5.7" fill="rgba(251,180,6,0.750)"/>
<rect x="297.85" y="455.35" width="5.7" height="5.7" fill="rgba(251,180,6,0.750)"/>
<rect x="315.35" y="456.25" width="5.7" height="5.7" fill="rgba(251,180,6,0.750)"/>
<rect x="301.85" y="459.85" width="5.7" height="5.7" fill="rgba(251,180,6,0.750)"/>
<rect x="298.35" y="462.15" width="5.7" height="5.7" fill="rgba(251,180,6,0.750)"/>
<rect x="309.05" y="462.95" width="5.7" height="5.7" fill="rgba(251,180,6,0.750)"/>
<rect x="315.35" y="461.65" width="5.7" height="5.7" fill="rgba(251,180,6,0.750)"/>
<rect x="301.05" y="466.15" width="5.7" height="5.7" fill="rgba(251,180,6,0.750)"/>
<rect x="305.45" y="466.55" width="5.7" height="5.7" fill="rgba(251,180,6,0.750)"/>
<rect x="299.55" y="463.95" width="5.7" height="5.7" fill="rgba(251,180,6,0.750)"/>
<rect x="305.55" y="463.95" width="5.7" height="5.7" fill="rgba(251,180,6,0.750)"/>
<rect x="309.75" y="463.95" width="5.7" height="5.7" fill="rgba(251,180,6,0.750)"/>
<rect x="315.25" y="463.15" width="5.7" height="5.7" fill="rgba(251,180,6,0.750)"/>
<rect x="300.15" y="466.95" width="5.7" height="5.7" fill="rgba(251,180,6,0.750)"/>
<rect x="304.95" y="467.55" width="5.7" height="5.7" fill="rgba(251,180,6,0.750)"/>
<rect x="304.95" y="485.55" width="5.7" height="5.7" fill="rgba(251,180,6,0.750)"/>
<rect x="307.35" y="484.35" width="5.7" height="5.7" fill="rgba(251,180,6,0.750)"/>
<rect x="315.25" y="487.95" width="5.7" height="5.7" fill="rgba(251,180,6,0.750)"/>
<rect x="303.15" y="498.85" width="5.7" height="5.7" fill="rgba(251,180,6,0.750)"/>
<rect x="313.45" y="503.05" width="5.7" height="5.7" fill="rgba(251,180,6,0.750)"/>
<rect x="309.15" y="522.95" width="5.7" height="5.7" fill="rgba(251,180,6,0.750)"/>
<rect x="97.84" y="428.15" width="38.2" height="25.2" fill="rgba(255,255,255,0.52)" stroke="#333" stroke-width="1.5"/>
<path d="M97.29 440.6H136.59" stroke="#333" stroke-width="2.6"/>
<rect x="194.4" y="424.65" width="38.2" height="24.1" fill="rgba(255,255,255,0.52)" stroke="#333" stroke-width="1.5"/>
<path d="M193.85 436.2H233.15" stroke="#333" stroke-width="2.6"/>
<rect x="290.96" y="408.35" width="38.2" height="22.8" fill="rgba(255,255,255,0.52)" stroke="#333" stroke-width="1.5"/>
<path d="M290.41 418.9H329.71" stroke="#333" stroke-width="2.6"/>
<path d="M213.5 336.1H310.06" stroke="#000" stroke-width="1.5"/>
<text transform="translate(261.78 332.4) scale(1.0 1.04)" font-size="11.4" fill="#000" text-anchor="middle">pD = 0.975<tspan font-size="10.0" dy="-0.5">*</tspan></text>
<path d="M116.94 356.8H310.06" stroke="#000" stroke-width="1.5"/>
<text transform="translate(213.5 353.1) scale(1.0 1.04)" font-size="11.4" fill="#000" text-anchor="middle">pD = 0.991<tspan font-size="10.0" dy="-0.5">*</tspan></text>
<path d="M116.94 377.5H213.5" stroke="#000" stroke-width="1.5"/>
<text transform="translate(165.22 373.8) scale(1.0 1.04)" font-size="11.4" fill="#000" text-anchor="middle">pD = 0.696</text>
<rect x="377" y="283.8" width="307" height="25" fill="#fff" stroke="#000" stroke-width="2"/>
<text transform="translate(529.9 301.3) scale(1.0 1.09)" font-size="13.2" fill="#1a1a1a" text-anchor="middle" textLength="44.3" lengthAdjust="spacing">Neutral</text>
<path d="M376 536.3H685" stroke="#000" stroke-width="1.9" fill="none"/>
<path d="M433.94 536.3V540.1" stroke="#333" stroke-width="1.7"/>
<text transform="translate(433.94 554.4) scale(1.0 1.07)" font-size="13.8" fill="#4d4d4d" text-anchor="middle">Self-Report</text>
<path d="M530.5 536.3V540.1" stroke="#333" stroke-width="1.7"/>
<text transform="translate(530.5 554.4) scale(1.0 1.07)" font-size="13.8" fill="#4d4d4d" text-anchor="middle">Expression</text>
<path d="M627.06 536.3V540.1" stroke="#333" stroke-width="1.7"/>
<text transform="translate(627.06 554.4) scale(1.0 1.07)" font-size="13.8" fill="#4d4d4d" text-anchor="middle">Reputation</text>
<circle cx="433.4" cy="395.1" r="3.05" fill="rgba(72,72,72,0.750)"/>
<circle cx="425.5" cy="398" r="3.05" fill="rgba(72,72,72,0.750)"/>
<circle cx="432.2" cy="399.4" r="3.05" fill="rgba(72,72,72,0.750)"/>
<circle cx="434.5" cy="402.1" r="3.05" fill="rgba(72,72,72,0.750)"/>
<circle cx="435.4" cy="402.5" r="3.05" fill="rgba(72,72,72,0.750)"/>
<circle cx="434.5" cy="408.5" r="3.05" fill="rgba(72,72,72,0.750)"/>
<circle cx="438.5" cy="410.6" r="3.05" fill="rgba(72,72,72,0.750)"/>
<circle cx="443" cy="415.3" r="3.05" fill="rgba(72,72,72,0.750)"/>
<circle cx="432.1" cy="420.9" r="3.05" fill="rgba(72,72,72,0.750)"/>
<circle cx="438.3" cy="429.6" r="3.05" fill="rgba(72,72,72,0.750)"/>
<circle cx="429.1" cy="432.3" r="3.05" fill="rgba(72,72,72,0.750)"/>
<circle cx="442.6" cy="433.9" r="3.05" fill="rgba(72,72,72,0.750)"/>
<circle cx="429.5" cy="436.7" r="3.05" fill="rgba(72,72,72,0.750)"/>
<circle cx="432.7" cy="438.3" r="3.05" fill="rgba(72,72,72,0.750)"/>
<circle cx="439.9" cy="438.9" r="3.05" fill="rgba(72,72,72,0.750)"/>
<circle cx="430.9" cy="442.1" r="3.05" fill="rgba(72,72,72,0.750)"/>
<circle cx="425.5" cy="446.5" r="3.05" fill="rgba(72,72,72,0.750)"/>
<circle cx="439.9" cy="447" r="3.05" fill="rgba(72,72,72,0.750)"/>
<circle cx="435.4" cy="449.2" r="3.05" fill="rgba(72,72,72,0.750)"/>
<circle cx="426.9" cy="450.1" r="3.05" fill="rgba(72,72,72,0.750)"/>
<circle cx="433.1" cy="451.9" r="3.05" fill="rgba(72,72,72,0.750)"/>
<circle cx="436.7" cy="451.9" r="3.05" fill="rgba(72,72,72,0.750)"/>
<circle cx="426.4" cy="452.8" r="3.05" fill="rgba(72,72,72,0.750)"/>
<circle cx="434" cy="455.5" r="3.05" fill="rgba(72,72,72,0.750)"/>
<circle cx="439.4" cy="456.4" r="3.05" fill="rgba(72,72,72,0.750)"/>
<circle cx="439" cy="459.1" r="3.05" fill="rgba(72,72,72,0.750)"/>
<circle cx="431.3" cy="461.8" r="3.05" fill="rgba(72,72,72,0.750)"/>
<circle cx="441.2" cy="464" r="3.05" fill="rgba(72,72,72,0.750)"/>
<circle cx="430.4" cy="463.6" r="3.05" fill="rgba(72,72,72,0.750)"/>
<circle cx="427.7" cy="470.3" r="3.05" fill="rgba(72,72,72,0.750)"/>
<circle cx="432.2" cy="470.8" r="3.05" fill="rgba(72,72,72,0.750)"/>
<circle cx="439.4" cy="470.3" r="3.05" fill="rgba(72,72,72,0.750)"/>
<circle cx="424.7" cy="478.9" r="3.05" fill="rgba(72,72,72,0.750)"/>
<circle cx="430.3" cy="480" r="3.05" fill="rgba(72,72,72,0.750)"/>
<circle cx="437" cy="478.9" r="3.05" fill="rgba(72,72,72,0.750)"/>
<circle cx="424.7" cy="487.8" r="3.05" fill="rgba(72,72,72,0.750)"/>
<circle cx="430.3" cy="486.7" r="3.05" fill="rgba(72,72,72,0.750)"/>
<circle cx="434.2" cy="487.8" r="3.05" fill="rgba(72,72,72,0.750)"/>
<circle cx="425.8" cy="493.4" r="3.05" fill="rgba(72,72,72,0.750)"/>
<circle cx="431.4" cy="492.3" r="3.05" fill="rgba(72,72,72,0.750)"/>
<circle cx="439.2" cy="491.7" r="3.05" fill="rgba(72,72,72,0.750)"/>
<circle cx="442.5" cy="491.7" r="3.05" fill="rgba(72,72,72,0.750)"/>
<circle cx="442.5" cy="496.7" r="3.05" fill="rgba(72,72,72,0.750)"/>
<circle cx="432.5" cy="499.5" r="3.05" fill="rgba(72,72,72,0.750)"/>
<circle cx="435.8" cy="501.2" r="3.05" fill="rgba(72,72,72,0.750)"/>
<circle cx="424.7" cy="502.9" r="3.05" fill="rgba(72,72,72,0.750)"/>
<circle cx="443.1" cy="502.3" r="3.05" fill="rgba(72,72,72,0.750)"/>
<circle cx="440.9" cy="504.5" r="3.05" fill="rgba(72,72,72,0.750)"/>
<circle cx="441.4" cy="508.4" r="3.05" fill="rgba(72,72,72,0.750)"/>
<circle cx="437.5" cy="510.6" r="3.05" fill="rgba(72,72,72,0.750)"/>
<circle cx="435.3" cy="513.4" r="3.05" fill="rgba(72,72,72,0.750)"/>
<circle cx="431.4" cy="515.7" r="3.05" fill="rgba(72,72,72,0.750)"/>
<circle cx="435.8" cy="517.9" r="3.05" fill="rgba(72,72,72,0.750)"/>
<circle cx="424.7" cy="520.7" r="3.05" fill="rgba(72,72,72,0.750)"/>
<circle cx="429.7" cy="521.2" r="3.05" fill="rgba(72,72,72,0.750)"/>
<circle cx="435.8" cy="521.8" r="3.05" fill="rgba(72,72,72,0.750)"/>
<circle cx="442" cy="522.3" r="3.05" fill="rgba(72,72,72,0.750)"/>
<circle cx="431.4" cy="525.1" r="3.05" fill="rgba(72,72,72,0.750)"/>
<circle cx="438.1" cy="525.1" r="3.05" fill="rgba(72,72,72,0.750)"/>
<circle cx="428.5" cy="470.3" r="3.05" fill="rgba(72,72,72,0.750)"/>
<circle cx="427" cy="473.2" r="3.05" fill="rgba(72,72,72,0.750)"/>
<circle cx="434.4" cy="479.8" r="3.05" fill="rgba(72,72,72,0.750)"/>
<circle cx="429.7" cy="478.3" r="3.05" fill="rgba(72,72,72,0.750)"/>
<circle cx="435.8" cy="471.9" r="3.05" fill="rgba(72,72,72,0.750)"/>
<circle cx="434.9" cy="482.4" r="3.05" fill="rgba(72,72,72,0.750)"/>
<path d="M536.9 379L540.88 385.9L532.92 385.9Z" fill="rgba(72,72,72,0.750)"/>
<path d="M529.2 387.1L533.18 394L525.22 394Z" fill="rgba(72,72,72,0.750)"/>
<path d="M523 404.3L526.98 411.2L519.02 411.2Z" fill="rgba(72,72,72,0.750)"/>
<path d="M528.5 403.6L532.48 410.5L524.52 410.5Z" fill="rgba(72,72,72,0.750)"/>
<path d="M536.9 405.9L540.88 412.8L532.92 412.8Z" fill="rgba(72,72,72,0.750)"/>
<path d="M523 409.7L526.98 416.6L519.02 416.6Z" fill="rgba(72,72,72,0.750)"/>
<path d="M534.2 412.4L538.18 419.3L530.22 419.3Z" fill="rgba(72,72,72,0.750)"/>
<path d="M530.4 421.7L534.38 428.6L526.42 428.6Z" fill="rgba(72,72,72,0.750)"/>
<path d="M535.5 423.5L539.48 430.4L531.52 430.4Z" fill="rgba(72,72,72,0.750)"/>
<path d="M539.1 427.6L543.08 434.5L535.12 434.5Z" fill="rgba(72,72,72,0.750)"/>
<path d="M527.9 428.9L531.88 435.8L523.92 435.8Z" fill="rgba(72,72,72,0.750)"/>
<path d="M521.2 431.2L525.18 438.1L517.22 438.1Z" fill="rgba(72,72,72,0.750)"/>
<path d="M532.8 430.7L536.78 437.6L528.82 437.6Z" fill="rgba(72,72,72,0.750)"/>
<path d="M536.4 432.1L540.38 439L532.42 439Z" fill="rgba(72,72,72,0.750)"/>
<path d="M523 435.2L526.98 442.1L519.02 442.1Z" fill="rgba(72,72,72,0.750)"/>
<path d="M531.9 433.4L535.88 440.3L527.92 440.3Z" fill="rgba(72,72,72,0.750)"/>
<path d="M539.1 431.6L543.08 438.5L535.12 438.5Z" fill="rgba(72,72,72,0.750)"/>
<path d="M521.6 437.4L525.58 444.3L517.62 444.3Z" fill="rgba(72,72,72,0.750)"/>
<path d="M524.3 443.7L528.28 450.6L520.32 450.6Z" fill="rgba(72,72,72,0.750)"/>
<path d="M535.5 441.9L539.48 448.8L531.52 448.8Z" fill="rgba(72,72,72,0.750)"/>
<path d="M524.3 446L528.28 452.9L520.32 452.9Z" fill="rgba(72,72,72,0.750)"/>
<path d="M535.5 445.5L539.48 452.4L531.52 452.4Z" fill="rgba(72,72,72,0.750)"/>
<path d="M522.1 452.3L526.08 459.2L518.12 459.2Z" fill="rgba(72,72,72,0.750)"/>
<path d="M523.9 458.1L527.88 465L519.92 465Z" fill="rgba(72,72,72,0.750)"/>
<path d="M528.8 459L532.78 465.9L524.82 465.9Z" fill="rgba(72,72,72,0.750)"/>
<path d="M535.5 460.8L539.48 467.7L531.52 467.7Z" fill="rgba(72,72,72,0.750)"/>
<path d="M523.9 460.4L527.88 467.3L519.92 467.3Z" fill="rgba(72,72,72,0.750)"/>
<path d="M528.8 459.5L532.78 466.4L524.82 466.4Z" fill="rgba(72,72,72,0.750)"/>
<path d="M536 461.7L539.98 468.6L532.02 468.6Z" fill="rgba(72,72,72,0.750)"/>
<path d="M523 464L526.98 470.9L519.02 470.9Z" fill="rgba(72,72,72,0.750)"/>
<path d="M534.6 464L538.58 470.9L530.62 470.9Z" fill="rgba(72,72,72,0.750)"/>
<path d="M522.1 468.5L526.08 475.4L518.12 475.4Z" fill="rgba(72,72,72,0.750)"/>
<path d="M531 467.6L534.98 474.5L527.02 474.5Z" fill="rgba(72,72,72,0.750)"/>
<path d="M535.5 468.5L539.48 475.4L531.52 475.4Z" fill="rgba(72,72,72,0.750)"/>
<path d="M539.1 469.4L543.08 476.3L535.12 476.3Z" fill="rgba(72,72,72,0.750)"/>
<path d="M525.6 476.5L529.58 483.4L521.62 483.4Z" fill="rgba(72,72,72,0.750)"/>
<path d="M531.9 476.5L535.88 483.4L527.92 483.4Z" fill="rgba(72,72,72,0.750)"/>
<path d="M537.3 476.5L541.28 483.4L533.32 483.4Z" fill="rgba(72,72,72,0.750)"/>
<path d="M540 477.4L543.98 484.3L536.02 484.3Z" fill="rgba(72,72,72,0.750)"/>
<path d="M520.7 483.7L524.68 490.6L516.72 490.6Z" fill="rgba(72,72,72,0.750)"/>
<path d="M536.4 482.8L540.38 489.7L532.42 489.7Z" fill="rgba(72,72,72,0.750)"/>
<path d="M533.7 485.5L537.68 492.4L529.72 492.4Z" fill="rgba(72,72,72,0.750)"/>
<path d="M539.1 485.5L543.08 492.4L535.12 492.4Z" fill="rgba(72,72,72,0.750)"/>
<path d="M524.7 489.1L528.68 496L520.72 496Z" fill="rgba(72,72,72,0.750)"/>
<path d="M534.6 488.2L538.58 495.1L530.62 495.1Z" fill="rgba(72,72,72,0.750)"/>
<path d="M538.2 492.7L542.18 499.6L534.22 499.6Z" fill="rgba(72,72,72,0.750)"/>
<path d="M523.9 493.6L527.88 500.5L519.92 500.5Z" fill="rgba(72,72,72,0.750)"/>
<path d="M530.1 495.4L534.08 502.3L526.12 502.3Z" fill="rgba(72,72,72,0.750)"/>
<path d="M540 495.4L543.98 502.3L536.02 502.3Z" fill="rgba(72,72,72,0.750)"/>
<path d="M524.7 498.1L528.68 505L520.72 505Z" fill="rgba(72,72,72,0.750)"/>
<path d="M536.4 498.1L540.38 505L532.42 505Z" fill="rgba(72,72,72,0.750)"/>
<path d="M523 502.6L526.98 509.5L519.02 509.5Z" fill="rgba(72,72,72,0.750)"/>
<path d="M530.1 501.7L534.08 508.6L526.12 508.6Z" fill="rgba(72,72,72,0.750)"/>
<path d="M538.2 502.6L542.18 509.5L534.22 509.5Z" fill="rgba(72,72,72,0.750)"/>
<path d="M523.6 494.7L527.58 501.6L519.62 501.6Z" fill="rgba(72,72,72,0.750)"/>
<path d="M530.5 494.7L534.48 501.6L526.52 501.6Z" fill="rgba(72,72,72,0.750)"/>
<path d="M538.6 494.7L542.58 501.6L534.62 501.6Z" fill="rgba(72,72,72,0.750)"/>
<path d="M523.6 502.3L527.58 509.2L519.62 509.2Z" fill="rgba(72,72,72,0.750)"/>
<path d="M531.3 502.3L535.28 509.2L527.32 509.2Z" fill="rgba(72,72,72,0.750)"/>
<path d="M538.2 502.3L542.18 509.2L534.22 509.2Z" fill="rgba(72,72,72,0.750)"/>
<path d="M523.2 508.5L527.18 515.4L519.22 515.4Z" fill="rgba(72,72,72,0.750)"/>
<path d="M537.8 507.1L541.78 514L533.82 514Z" fill="rgba(72,72,72,0.750)"/>
<path d="M521.8 512.2L525.78 519.1L517.82 519.1Z" fill="rgba(72,72,72,0.750)"/>
<path d="M539.3 512.9L543.28 519.8L535.32 519.8Z" fill="rgba(72,72,72,0.750)"/>
<path d="M527.3 518L531.28 524.9L523.32 524.9Z" fill="rgba(72,72,72,0.750)"/>
<path d="M533.1 518L537.08 524.9L529.12 524.9Z" fill="rgba(72,72,72,0.750)"/>
<path d="M522.9 520.6L526.88 527.5L518.92 527.5Z" fill="rgba(72,72,72,0.750)"/>
<path d="M540 520.6L543.98 527.5L536.02 527.5Z" fill="rgba(72,72,72,0.750)"/>
<path d="M523.3 465.5L527.28 472.4L519.32 472.4Z" fill="rgba(72,72,72,0.750)"/>
<path d="M529.6 468.8L533.58 475.7L525.62 475.7Z" fill="rgba(72,72,72,0.750)"/>
<path d="M531.2 466.2L535.18 473.1L527.22 473.1Z" fill="rgba(72,72,72,0.750)"/>
<path d="M524.7 470.4L528.68 477.3L520.72 477.3Z" fill="rgba(72,72,72,0.750)"/>
<path d="M532.4 477.3L536.38 484.2L528.42 484.2Z" fill="rgba(72,72,72,0.750)"/>
<path d="M536.7 518.2L540.68 525.1L532.72 525.1Z" fill="rgba(72,72,72,0.750)"/>
<path d="M534 515.1L537.98 522L530.02 522Z" fill="rgba(72,72,72,0.750)"/>
<path d="M538.7 509L542.68 515.9L534.72 515.9Z" fill="rgba(72,72,72,0.750)"/>
<path d="M534.9 486.5L538.88 493.4L530.92 493.4Z" fill="rgba(72,72,72,0.750)"/>
<path d="M535.4 483.3L539.38 490.2L531.42 490.2Z" fill="rgba(72,72,72,0.750)"/>
<path d="M532.3 507.7L536.28 514.6L528.32 514.6Z" fill="rgba(72,72,72,0.750)"/>
<rect x="616.05" y="389.05" width="5.7" height="5.7" fill="rgba(72,72,72,0.750)"/>
<rect x="625.65" y="400.05" width="5.7" height="5.7" fill="rgba(72,72,72,0.750)"/>
<rect x="629.95" y="424.05" width="5.7" height="5.7" fill="rgba(72,72,72,0.750)"/>
<rect x="615.15" y="428.15" width="5.7" height="5.7" fill="rgba(72,72,72,0.750)"/>
<rect x="627.45" y="436.55" width="5.7" height="5.7" fill="rgba(72,72,72,0.750)"/>
<rect x="630.15" y="438.75" width="5.7" height="5.7" fill="rgba(72,72,72,0.750)"/>
<rect x="622.05" y="442.75" width="5.7" height="5.7" fill="rgba(72,72,72,0.750)"/>
<rect x="626.95" y="443.65" width="5.7" height="5.7" fill="rgba(72,72,72,0.750)"/>
<rect x="630.15" y="446.85" width="5.7" height="5.7" fill="rgba(72,72,72,0.750)"/>
<rect x="615.75" y="455.85" width="5.7" height="5.7" fill="rgba(72,72,72,0.750)"/>
<rect x="621.15" y="456.75" width="5.7" height="5.7" fill="rgba(72,72,72,0.750)"/>
<rect x="626.95" y="456.75" width="5.7" height="5.7" fill="rgba(72,72,72,0.750)"/>
<rect x="616.25" y="462.15" width="5.7" height="5.7" fill="rgba(72,72,72,0.750)"/>
<rect x="621.15" y="463.85" width="5.7" height="5.7" fill="rgba(72,72,72,0.750)"/>
<rect x="626.05" y="462.15" width="5.7" height="5.7" fill="rgba(72,72,72,0.750)"/>
<rect x="628.75" y="465.25" width="5.7" height="5.7" fill="rgba(72,72,72,0.750)"/>
<rect x="633.25" y="467.05" width="5.7" height="5.7" fill="rgba(72,72,72,0.750)"/>
<rect x="616.25" y="465.25" width="5.7" height="5.7" fill="rgba(72,72,72,0.750)"/>
<rect x="619.75" y="469.75" width="5.7" height="5.7" fill="rgba(72,72,72,0.750)"/>
<rect x="625.15" y="469.75" width="5.7" height="5.7" fill="rgba(72,72,72,0.750)"/>
<rect x="630.55" y="469.75" width="5.7" height="5.7" fill="rgba(72,72,72,0.750)"/>
<rect x="615.95" y="464.55" width="5.7" height="5.7" fill="rgba(72,72,72,0.750)"/>
<rect x="623.15" y="463.95" width="5.7" height="5.7" fill="rgba(72,72,72,0.750)"/>
<rect x="629.15" y="464.55" width="5.7" height="5.7" fill="rgba(72,72,72,0.750)"/>
<rect x="632.85" y="467.55" width="5.7" height="5.7" fill="rgba(72,72,72,0.750)"/>
<rect x="614.75" y="473.55" width="5.7" height="5.7" fill="rgba(72,72,72,0.750)"/>
<rect x="621.35" y="472.35" width="5.7" height="5.7" fill="rgba(72,72,72,0.750)"/>
<rect x="627.95" y="473.55" width="5.7" height="5.7" fill="rgba(72,72,72,0.750)"/>
<rect x="632.85" y="474.15" width="5.7" height="5.7" fill="rgba(72,72,72,0.750)"/>
<rect x="617.15" y="479.55" width="5.7" height="5.7" fill="rgba(72,72,72,0.750)"/>
<rect x="630.35" y="479.55" width="5.7" height="5.7" fill="rgba(72,72,72,0.750)"/>
<rect x="618.15" y="485.15" width="5.7" height="5.7" fill="rgba(72,72,72,0.750)"/>
<rect x="624.15" y="486.15" width="5.7" height="5.7" fill="rgba(72,72,72,0.750)"/>
<rect x="630.15" y="485.15" width="5.7" height="5.7" fill="rgba(72,72,72,0.750)"/>
<rect x="621.15" y="491.15" width="5.7" height="5.7" fill="rgba(72,72,72,0.750)"/>
<rect x="627.15" y="492.15" width="5.7" height="5.7" fill="rgba(72,72,72,0.750)"/>
<rect x="619.55" y="498.25" width="5.7" height="5.7" fill="rgba(72,72,72,0.750)"/>
<rect x="627.95" y="498.25" width="5.7" height="5.7" fill="rgba(72,72,72,0.750)"/>
<rect x="618.35" y="503.05" width="5.7" height="5.7" fill="rgba(72,72,72,0.750)"/>
<rect x="626.75" y="503.65" width="5.7" height="5.7" fill="rgba(72,72,72,0.750)"/>
<rect x="614.75" y="509.05" width="5.7" height="5.7" fill="rgba(72,72,72,0.750)"/>
<rect x="621.35" y="510.25" width="5.7" height="5.7" fill="rgba(72,72,72,0.750)"/>
<rect x="629.15" y="510.25" width="5.7" height="5.7" fill="rgba(72,72,72,0.750)"/>
<rect x="615.95" y="515.05" width="5.7" height="5.7" fill="rgba(72,72,72,0.750)"/>
<rect x="623.15" y="516.25" width="5.7" height="5.7" fill="rgba(72,72,72,0.750)"/>
<rect x="629.15" y="515.05" width="5.7" height="5.7" fill="rgba(72,72,72,0.750)"/>
<rect x="634.05" y="515.05" width="5.7" height="5.7" fill="rgba(72,72,72,0.750)"/>
<rect x="617.15" y="521.05" width="5.7" height="5.7" fill="rgba(72,72,72,0.750)"/>
<rect x="626.75" y="522.25" width="5.7" height="5.7" fill="rgba(72,72,72,0.750)"/>
<rect x="631.65" y="518.65" width="5.7" height="5.7" fill="rgba(72,72,72,0.750)"/>
<rect x="619.75" y="473.25" width="5.7" height="5.7" fill="rgba(72,72,72,0.750)"/>
<rect x="615.85" y="470.15" width="5.7" height="5.7" fill="rgba(72,72,72,0.750)"/>
<rect x="622.15" y="468.05" width="5.7" height="5.7" fill="rgba(72,72,72,0.750)"/>
<rect x="632.15" y="468.95" width="5.7" height="5.7" fill="rgba(72,72,72,0.750)"/>
<rect x="627.75" y="472.05" width="5.7" height="5.7" fill="rgba(72,72,72,0.750)"/>
<rect x="625.75" y="469.25" width="5.7" height="5.7" fill="rgba(72,72,72,0.750)"/>
<rect x="619.15" y="485.95" width="5.7" height="5.7" fill="rgba(72,72,72,0.750)"/>
<rect x="625.55" y="492.95" width="5.7" height="5.7" fill="rgba(72,72,72,0.750)"/>
<rect x="632.85" y="484.55" width="5.7" height="5.7" fill="rgba(72,72,72,0.750)"/>
<rect x="628.35" y="492.55" width="5.7" height="5.7" fill="rgba(72,72,72,0.750)"/>
<rect x="622.45" y="486.75" width="5.7" height="5.7" fill="rgba(72,72,72,0.750)"/>
<rect x="632.35" y="492.65" width="5.7" height="5.7" fill="rgba(72,72,72,0.750)"/>
<rect x="622.15" y="507.75" width="5.7" height="5.7" fill="rgba(72,72,72,0.750)"/>
<rect x="624.75" y="499.95" width="5.7" height="5.7" fill="rgba(72,72,72,0.750)"/>
<rect x="627.75" y="521.55" width="5.7" height="5.7" fill="rgba(72,72,72,0.750)"/>
<rect x="630.45" y="511.15" width="5.7" height="5.7" fill="rgba(72,72,72,0.750)"/>
<rect x="631.25" y="503.85" width="5.7" height="5.7" fill="rgba(72,72,72,0.750)"/>
<rect x="617.85" y="501.15" width="5.7" height="5.7" fill="rgba(72,72,72,0.750)"/>
<rect x="632.25" y="517.75" width="5.7" height="5.7" fill="rgba(72,72,72,0.750)"/>
<rect x="629.65" y="523.85" width="5.7" height="5.7" fill="rgba(72,72,72,0.750)"/>
<rect x="621.55" y="516.55" width="5.7" height="5.7" fill="rgba(72,72,72,0.750)"/>
<rect x="414.84" y="466.95" width="38.2" height="16.3" fill="rgba(255,255,255,0.52)" stroke="#333" stroke-width="1.5"/>
<path d="M414.29 475H453.59" stroke="#333" stroke-width="2.6"/>
<rect x="511.4" y="467.15" width="38.2" height="16.1" fill="rgba(255,255,255,0.52)" stroke="#333" stroke-width="1.5"/>
<path d="M510.85 475.4H550.15" stroke="#333" stroke-width="2.6"/>
<rect x="607.96" y="486.05" width="38.2" height="12.3" fill="rgba(255,255,255,0.52)" stroke="#333" stroke-width="1.5"/>
<path d="M607.41 492.2H646.71" stroke="#333" stroke-width="2.6"/>
<path d="M530.5 336H627.06" stroke="#000" stroke-width="1.5"/>
<text transform="translate(578.78 332.3) scale(1.0 1.04)" font-size="11.4" fill="#000" text-anchor="middle">pD = 0.999<tspan font-size="10.0" dy="-0.5">*</tspan></text>
<path d="M433.94 356.7H627.06" stroke="#000" stroke-width="1.5"/>
<text transform="translate(530.5 353) scale(1.0 1.04)" font-size="11.4" fill="#000" text-anchor="middle">pD &gt; 0.999<tspan font-size="10.0" dy="-0.5">*</tspan></text>
<path d="M433.94 377.4H530.5" stroke="#000" stroke-width="1.5"/>
<text transform="translate(482.22 373.7) scale(1.0 1.04)" font-size="11.4" fill="#000" text-anchor="middle">pD = 0.502</text>
<text transform="translate(10.9 281) rotate(-90) scale(1.0 1.08)" font-size="15.7" fill="#000" text-anchor="middle">Frequency of responses</text>
</svg></body></html>
